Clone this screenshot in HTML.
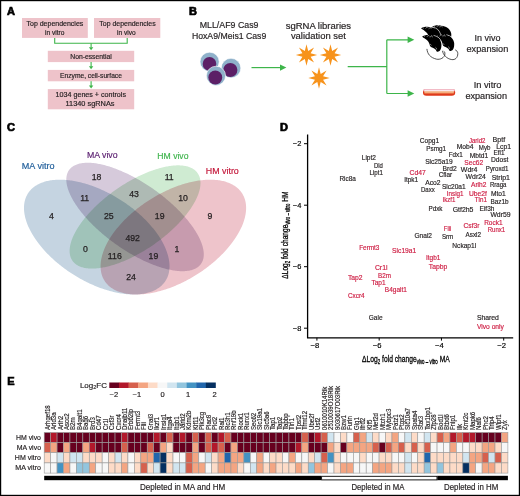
<!DOCTYPE html>
<html><head><meta charset="utf-8"><style>
html,body{margin:0;padding:0;background:#fff;}
body{width:520px;height:496px;overflow:hidden;}
svg{display:block;}
text{font-family:"Liberation Sans",sans-serif;}
</style></head><body>
<svg width="520" height="496" viewBox="0 0 520 496">
<rect x="0" y="0" width="520" height="496" fill="#fff"/>
<text x="7.10" y="14.55" font-size="11" text-anchor="start" fill="#000" font-weight="bold" stroke="#000" stroke-width="0.7">A</text>
<text x="189.00" y="14.55" font-size="11" text-anchor="start" fill="#000" font-weight="bold" stroke="#000" stroke-width="0.7">B</text>
<text x="6.90" y="131.10" font-size="11" text-anchor="start" fill="#000" font-weight="bold" stroke="#000" stroke-width="0.7">C</text>
<text x="279.90" y="131.05" font-size="11" text-anchor="start" fill="#000" font-weight="bold" stroke="#000" stroke-width="0.7">D</text>
<text x="7.30" y="384.85" font-size="11" text-anchor="start" fill="#000" font-weight="bold" stroke="#000" stroke-width="0.7">E</text>
<rect x="22" y="18" width="65.80" height="19.90" fill="#eec3ca"/>
<rect x="94" y="18" width="66.30" height="19.90" fill="#eec3ca"/>
<rect x="47.8" y="50.8" width="86.40" height="11.30" fill="#eec3ca"/>
<rect x="47.8" y="69.9" width="86.40" height="11.40" fill="#eec3ca"/>
<rect x="47.8" y="89.1" width="86.40" height="20.20" fill="#eec3ca"/>
<text x="54.90" y="26.00" font-size="7" text-anchor="middle" fill="#231f20" stroke="#231f20" stroke-width="0.18" textLength="56.80" lengthAdjust="spacingAndGlyphs" >Top dependencies</text>
<text x="54.70" y="34.50" font-size="7" text-anchor="middle" fill="#231f20" stroke="#231f20" stroke-width="0.18" textLength="19.50" lengthAdjust="spacingAndGlyphs" >in vitro</text>
<text x="127.50" y="26.00" font-size="7" text-anchor="middle" fill="#231f20" stroke="#231f20" stroke-width="0.18" textLength="56.30" lengthAdjust="spacingAndGlyphs" >Top dependencies</text>
<text x="126.40" y="34.50" font-size="7" text-anchor="middle" fill="#231f20" stroke="#231f20" stroke-width="0.18" textLength="18.70" lengthAdjust="spacingAndGlyphs" >in vivo</text>
<text x="91.00" y="58.60" font-size="7" text-anchor="middle" fill="#231f20" stroke="#231f20" stroke-width="0.18" textLength="41.50" lengthAdjust="spacingAndGlyphs" >Non-essential</text>
<text x="91.00" y="77.80" font-size="7" text-anchor="middle" fill="#231f20" stroke="#231f20" stroke-width="0.18" textLength="61.80" lengthAdjust="spacingAndGlyphs" >Enzyme, cell-surface</text>
<text x="90.80" y="97.00" font-size="7" text-anchor="middle" fill="#231f20" stroke="#231f20" stroke-width="0.18" textLength="70.40" lengthAdjust="spacingAndGlyphs" >1034 genes + controls</text>
<text x="90.00" y="105.60" font-size="7" text-anchor="middle" fill="#231f20" stroke="#231f20" stroke-width="0.18" textLength="49.00" lengthAdjust="spacingAndGlyphs" >11340 sgRNAs</text>
<path d="M54.7 37.9 V43.2 H127.2 V37.9" fill="none" stroke="#3db54a" stroke-width="1.1"/>
<line x1="91.1" y1="43.2" x2="91.1" y2="47.60" stroke="#3db54a" stroke-width="1.1"/>
<path d="M88.9 47.20 L93.3 47.20 L91.1 50.20 Z" fill="#3db54a"/>
<line x1="91.1" y1="62.1" x2="91.1" y2="66.70" stroke="#3db54a" stroke-width="1.1"/>
<path d="M88.9 66.30 L93.3 66.30 L91.1 69.30 Z" fill="#3db54a"/>
<line x1="91.1" y1="81.3" x2="91.1" y2="85.90" stroke="#3db54a" stroke-width="1.1"/>
<path d="M88.9 85.50 L93.3 85.50 L91.1 88.50 Z" fill="#3db54a"/>
<text x="229.10" y="28.00" font-size="8.8" text-anchor="middle" fill="#231f20" stroke="#231f20" stroke-width="0.18" textLength="58.80" lengthAdjust="spacingAndGlyphs" >MLL/AF9 Cas9</text>
<text x="229.10" y="38.70" font-size="8.8" text-anchor="middle" fill="#231f20" stroke="#231f20" stroke-width="0.18" textLength="74.40" lengthAdjust="spacingAndGlyphs" >HoxA9/Meis1 Cas9</text>
<text x="318.40" y="28.50" font-size="8.8" text-anchor="middle" fill="#231f20" stroke="#231f20" stroke-width="0.18" textLength="65.40" lengthAdjust="spacingAndGlyphs" >sgRNA libraries</text>
<text x="318.40" y="38.90" font-size="8.8" text-anchor="middle" fill="#231f20" stroke="#231f20" stroke-width="0.18" textLength="55.00" lengthAdjust="spacingAndGlyphs" >validation set</text>
<text x="487.60" y="40.80" font-size="8.8" text-anchor="middle" fill="#231f20" stroke="#231f20" stroke-width="0.18" textLength="26.00" lengthAdjust="spacingAndGlyphs" >In vivo</text>
<text x="487.40" y="52.00" font-size="8.8" text-anchor="middle" fill="#231f20" stroke="#231f20" stroke-width="0.18" textLength="41.80" lengthAdjust="spacingAndGlyphs" >expansion</text>
<text x="487.60" y="87.50" font-size="8.8" text-anchor="middle" fill="#231f20" stroke="#231f20" stroke-width="0.18" textLength="27.80" lengthAdjust="spacingAndGlyphs" >In vitro</text>
<text x="486.20" y="98.50" font-size="8.8" text-anchor="middle" fill="#231f20" stroke="#231f20" stroke-width="0.18" textLength="41.60" lengthAdjust="spacingAndGlyphs" >expansion</text>
<circle cx="209.6" cy="61.8" r="9.6" fill="#8fb1ca" stroke="#fff" stroke-width="0.6"/>
<circle cx="209.5" cy="63.9" r="6.8" fill="#5c1f66"/>
<circle cx="231" cy="68.1" r="9.8" fill="#8fb1ca" stroke="#fff" stroke-width="0.6"/>
<circle cx="230.3" cy="70" r="7.1" fill="#5c1f66"/>
<circle cx="216" cy="75.8" r="9.6" fill="#8fb1ca" stroke="#fff" stroke-width="0.6"/>
<circle cx="215.3" cy="77.5" r="6.9" fill="#5c1f66"/>
<line x1="251.5" y1="67.6" x2="281" y2="67.6" stroke="#3db54a" stroke-width="1.2"/>
<path d="M280 64.4 L286.4 67.6 L280 70.8 Z" fill="#3db54a"/>
<polygon points="306.50,44.30 308.18,50.93 314.07,47.43 310.57,53.32 317.20,55.00 310.57,56.68 314.07,62.57 308.18,59.07 306.50,65.70 304.82,59.07 298.93,62.57 302.43,56.68 295.80,55.00 302.43,53.32 298.93,47.43 304.82,50.93" fill="#f7931c"/>
<polygon points="330.50,44.30 332.18,50.93 338.07,47.43 334.57,53.32 341.20,55.00 334.57,56.68 338.07,62.57 332.18,59.07 330.50,65.70 328.82,59.07 322.93,62.57 326.43,56.68 319.80,55.00 326.43,53.32 322.93,47.43 328.82,50.93" fill="#f7931c"/>
<polygon points="319.00,67.30 320.68,73.93 326.57,70.43 323.07,76.32 329.70,78.00 323.07,79.68 326.57,85.57 320.68,82.07 319.00,88.70 317.32,82.07 311.43,85.57 314.93,79.68 308.30,78.00 314.93,76.32 311.43,70.43 317.32,73.93" fill="#f7931c"/>
<path d="M347.7 66.6 H386.8 M386.8 39.8 V93.5 M386.8 39.8 H409 M386.8 93.5 H409" fill="none" stroke="#3db54a" stroke-width="1.2"/>
<path d="M407.6 36.6 L414.3 39.8 L407.6 43 Z" fill="#3db54a"/>
<path d="M407.6 90.3 L414.3 93.5 L407.6 96.7 Z" fill="#3db54a"/>
<path d="M426.9 48.9 C427.5 54 430 57.5 436.6 59.2 C440 59.8 444.5 58 444.9 54.1 C445 52.5 444.5 51.6 443.8 51.2" fill="none" stroke="#2a2a2a" stroke-width="0.8"/>
<path d="M442.5 50.8 C443 54.5 446.5 58.8 451.8 59.6 C455 60 457.8 58 457.8 53.5 C457.8 51.5 456.5 50.4 455.2 49.9" fill="none" stroke="#2a2a2a" stroke-width="0.8"/>
<g transform="translate(432.1 26.8)"><path d="M11.45,-1.25 L14.45,-0.25 L16.75,1.15 L18.35,3.15 L19.45,5.75 L19.65,8.55 L19.05,11.75" stroke="#fff" stroke-width="0.7" fill="none" stroke-linejoin="round"/><path d="M0.00,0.00 C-0.05,-0.37 0.92,-0.67 1.50,-0.90 C2.08,-1.13 2.83,-1.28 3.50,-1.40 C4.17,-1.52 4.75,-1.62 5.50,-1.60 C6.25,-1.58 7.08,-1.43 8.00,-1.30 C8.92,-1.17 10.00,-1.05 11.00,-0.80 C12.00,-0.55 13.12,-0.20 14.00,0.20 C14.88,0.60 15.65,1.03 16.30,1.60 C16.95,2.17 17.45,2.83 17.90,3.60 C18.35,4.37 18.78,5.30 19.00,6.20 C19.22,7.10 19.27,8.00 19.20,9.00 C19.13,10.00 19.00,11.27 18.60,12.20 C18.20,13.13 17.47,14.18 16.80,14.60 C16.13,15.02 15.18,15.02 14.60,14.70 C14.02,14.38 13.98,13.32 13.30,12.70 C12.62,12.08 11.35,11.48 10.50,11.00 C9.65,10.52 8.73,10.37 8.20,9.80 C7.67,9.23 7.63,8.40 7.30,7.60 C6.97,6.80 6.75,5.78 6.20,5.00 C5.65,4.22 4.73,3.52 4.00,2.90 C3.27,2.28 2.47,1.78 1.80,1.30 C1.13,0.82 0.05,0.37 0.00,0.00 Z" fill="#000"/><path d="M4.6,0.3 L6.2,-1.6 L7.2,-0.2 M7.6,0.6 L9.6,-1.2 L10.2,0.6" stroke="#fff" stroke-width="0.45" fill="none" stroke-linejoin="round"/><circle cx="2.2" cy="-0.1" r="0.4" fill="#fff"/><path d="M7.6,7.4 q1.2,0.3 1.6,1.4 M13.2,10.6 q1.2,0.4 1.3,2.2" stroke="#fff" stroke-width="0.45" fill="none"/></g>
<g transform="translate(421 28.3)"><path d="M11.45,-1.25 L14.45,-0.25 L16.75,1.15 L18.35,3.15 L19.45,5.75 L19.65,8.55 L19.05,11.75" stroke="#fff" stroke-width="0.7" fill="none" stroke-linejoin="round"/><path d="M0.00,0.00 C-0.05,-0.37 0.92,-0.67 1.50,-0.90 C2.08,-1.13 2.83,-1.28 3.50,-1.40 C4.17,-1.52 4.75,-1.62 5.50,-1.60 C6.25,-1.58 7.08,-1.43 8.00,-1.30 C8.92,-1.17 10.00,-1.05 11.00,-0.80 C12.00,-0.55 13.12,-0.20 14.00,0.20 C14.88,0.60 15.65,1.03 16.30,1.60 C16.95,2.17 17.45,2.83 17.90,3.60 C18.35,4.37 18.78,5.30 19.00,6.20 C19.22,7.10 19.27,8.00 19.20,9.00 C19.13,10.00 19.00,11.27 18.60,12.20 C18.20,13.13 17.47,14.18 16.80,14.60 C16.13,15.02 15.18,15.02 14.60,14.70 C14.02,14.38 13.98,13.32 13.30,12.70 C12.62,12.08 11.35,11.48 10.50,11.00 C9.65,10.52 8.73,10.37 8.20,9.80 C7.67,9.23 7.63,8.40 7.30,7.60 C6.97,6.80 6.75,5.78 6.20,5.00 C5.65,4.22 4.73,3.52 4.00,2.90 C3.27,2.28 2.47,1.78 1.80,1.30 C1.13,0.82 0.05,0.37 0.00,0.00 Z" fill="#000"/><path d="M4.6,0.3 L6.2,-1.6 L7.2,-0.2 M7.6,0.6 L9.6,-1.2 L10.2,0.6" stroke="#fff" stroke-width="0.45" fill="none" stroke-linejoin="round"/><circle cx="2.2" cy="-0.1" r="0.4" fill="#fff"/><path d="M7.6,7.4 q1.2,0.3 1.6,1.4 M13.2,10.6 q1.2,0.4 1.3,2.2" stroke="#fff" stroke-width="0.45" fill="none"/></g>
<g transform="translate(435 36)"><path d="M11.45,-1.25 L14.45,-0.25 L16.75,1.15 L18.35,3.15 L19.45,5.75 L19.65,8.55 L19.05,11.75" stroke="#fff" stroke-width="0.7" fill="none" stroke-linejoin="round"/><path d="M0.00,0.00 C-0.05,-0.37 0.92,-0.67 1.50,-0.90 C2.08,-1.13 2.83,-1.28 3.50,-1.40 C4.17,-1.52 4.75,-1.62 5.50,-1.60 C6.25,-1.58 7.08,-1.43 8.00,-1.30 C8.92,-1.17 10.00,-1.05 11.00,-0.80 C12.00,-0.55 13.12,-0.20 14.00,0.20 C14.88,0.60 15.65,1.03 16.30,1.60 C16.95,2.17 17.45,2.83 17.90,3.60 C18.35,4.37 18.78,5.30 19.00,6.20 C19.22,7.10 19.27,8.00 19.20,9.00 C19.13,10.00 19.00,11.27 18.60,12.20 C18.20,13.13 17.47,14.18 16.80,14.60 C16.13,15.02 15.18,15.02 14.60,14.70 C14.02,14.38 13.98,13.32 13.30,12.70 C12.62,12.08 11.35,11.48 10.50,11.00 C9.65,10.52 8.73,10.37 8.20,9.80 C7.67,9.23 7.63,8.40 7.30,7.60 C6.97,6.80 6.75,5.78 6.20,5.00 C5.65,4.22 4.73,3.52 4.00,2.90 C3.27,2.28 2.47,1.78 1.80,1.30 C1.13,0.82 0.05,0.37 0.00,0.00 Z" fill="#000"/><path d="M4.6,0.3 L6.2,-1.6 L7.2,-0.2 M7.6,0.6 L9.6,-1.2 L10.2,0.6" stroke="#fff" stroke-width="0.45" fill="none" stroke-linejoin="round"/><circle cx="2.2" cy="-0.1" r="0.4" fill="#fff"/><path d="M7.6,7.4 q1.2,0.3 1.6,1.4 M13.2,10.6 q1.2,0.4 1.3,2.2" stroke="#fff" stroke-width="0.45" fill="none"/></g>
<g transform="translate(422.2 36.7)"><path d="M11.45,-1.25 L14.45,-0.25 L16.75,1.15 L18.35,3.15 L19.45,5.75 L19.65,8.55 L19.05,11.75" stroke="#fff" stroke-width="0.7" fill="none" stroke-linejoin="round"/><path d="M0.00,0.00 C-0.05,-0.37 0.92,-0.67 1.50,-0.90 C2.08,-1.13 2.83,-1.28 3.50,-1.40 C4.17,-1.52 4.75,-1.62 5.50,-1.60 C6.25,-1.58 7.08,-1.43 8.00,-1.30 C8.92,-1.17 10.00,-1.05 11.00,-0.80 C12.00,-0.55 13.12,-0.20 14.00,0.20 C14.88,0.60 15.65,1.03 16.30,1.60 C16.95,2.17 17.45,2.83 17.90,3.60 C18.35,4.37 18.78,5.30 19.00,6.20 C19.22,7.10 19.27,8.00 19.20,9.00 C19.13,10.00 19.00,11.27 18.60,12.20 C18.20,13.13 17.47,14.18 16.80,14.60 C16.13,15.02 15.18,15.02 14.60,14.70 C14.02,14.38 13.98,13.32 13.30,12.70 C12.62,12.08 11.35,11.48 10.50,11.00 C9.65,10.52 8.73,10.37 8.20,9.80 C7.67,9.23 7.63,8.40 7.30,7.60 C6.97,6.80 6.75,5.78 6.20,5.00 C5.65,4.22 4.73,3.52 4.00,2.90 C3.27,2.28 2.47,1.78 1.80,1.30 C1.13,0.82 0.05,0.37 0.00,0.00 Z" fill="#000"/><path d="M4.6,0.3 L6.2,-1.6 L7.2,-0.2 M7.6,0.6 L9.6,-1.2 L10.2,0.6" stroke="#fff" stroke-width="0.45" fill="none" stroke-linejoin="round"/><circle cx="2.2" cy="-0.1" r="0.4" fill="#fff"/><path d="M7.6,7.4 q1.2,0.3 1.6,1.4 M13.2,10.6 q1.2,0.4 1.3,2.2" stroke="#fff" stroke-width="0.45" fill="none"/></g>
<defs><linearGradient id="dg" x1="0" y1="0" x2="0" y2="1"><stop offset="0" stop-color="#f7c9a2"/><stop offset="1" stop-color="#f29a64"/></linearGradient></defs>
<rect x="423" y="88.9" width="32.2" height="6.9" rx="3.4" ry="3.3" fill="#df3a1b"/>
<rect x="423.3" y="88.9" width="31.6" height="2.8" rx="1.4" fill="#f0b0bc"/>
<rect x="424.4" y="89.8" width="29.4" height="1.3" fill="#fbe8ee"/>
<rect x="424.4" y="91.1" width="29.4" height="2.4" fill="url(#dg)"/>
<g style="isolation:isolate">
<polygon points="33.57,187.26 32.95,187.76 32.35,188.28 31.77,188.82 31.21,189.37 30.67,189.93 30.14,190.51 29.64,191.10 29.16,191.71 28.70,192.33 28.26,192.96 27.84,193.61 27.45,194.27 27.07,194.94 26.71,195.63 26.38,196.33 26.07,197.04 25.78,197.76 25.51,198.50 25.26,199.25 25.03,200.01 24.83,200.78 24.65,201.56 24.49,202.35 24.35,203.15 24.23,203.97 24.14,204.79 24.07,205.62 24.02,206.46 23.99,207.32 23.98,208.18 24.00,209.05 24.04,209.93 24.10,210.81 24.18,211.71 24.29,212.61 24.42,213.52 24.57,214.44 24.74,215.36 24.93,216.29 25.15,217.23 25.38,218.17 25.64,219.12 25.92,220.07 26.22,221.03 26.55,222.00 26.89,222.97 27.26,223.94 27.65,224.92 28.05,225.90 28.48,226.88 28.93,227.87 29.40,228.86 29.90,229.85 30.41,230.85 30.94,231.84 31.49,232.84 32.06,233.84 32.65,234.84 33.27,235.84 33.90,236.85 34.54,237.85 35.21,238.85 35.90,239.85 36.61,240.85 37.33,241.85 38.07,242.85 38.83,243.84 39.61,244.84 40.41,245.83 41.22,246.82 42.05,247.80 42.89,248.79 43.75,249.77 44.63,250.74 45.53,251.71 46.44,252.68 47.36,253.64 48.30,254.60 49.26,255.55 50.23,256.50 51.21,257.44 52.21,258.37 53.22,259.30 54.24,260.22 55.28,261.13 56.33,262.04 57.39,262.94 58.47,263.83 59.55,264.71 60.65,265.58 61.76,266.45 62.88,267.31 64.01,268.15 65.15,268.99 66.29,269.82 67.45,270.64 68.62,271.45 69.79,272.24 70.98,273.03 72.17,273.81 73.37,274.57 74.58,275.32 75.79,276.07 77.01,276.80 78.23,277.51 79.46,278.22 80.70,278.91 81.94,279.59 83.19,280.26 84.44,280.91 85.69,281.55 86.95,282.18 88.21,282.80 89.47,283.40 90.74,283.98 92.00,284.55 93.27,285.11 94.54,285.65 95.81,286.18 97.08,286.69 98.35,287.19 99.62,287.67 100.89,288.14 102.15,288.59 103.42,289.02 104.68,289.44 105.95,289.85 107.20,290.23 108.46,290.60 109.71,290.96 110.96,291.30 112.20,291.62 113.44,291.93 114.67,292.21 115.90,292.49 117.12,292.74 118.34,292.98 119.55,293.20 120.75,293.41 121.95,293.59 123.14,293.76 124.32,293.92 125.49,294.05 126.65,294.17 127.80,294.27 128.95,294.35 130.08,294.42 131.21,294.47 132.32,294.50 133.42,294.51 134.51,294.50 135.59,294.48 136.66,294.44 137.72,294.39 138.76,294.31 139.79,294.22 140.81,294.11 141.81,293.99 142.80,293.84 143.78,293.68 144.74,293.50 145.69,293.31 146.62,293.10 147.54,292.87 148.44,292.62 149.33,292.36 150.20,292.08 151.05,291.78 151.89,291.46 152.71,291.13 153.51,290.79 154.30,290.42 155.07,290.05 155.82,289.65 156.55,289.24 157.27,288.81 157.96,288.37 158.64,287.91 159.30,287.44 159.94,286.95 160.56,286.44 161.16,285.92 161.74,285.39 162.30,284.84 162.84,284.27 163.37,283.70 163.87,283.10 164.35,282.50 164.81,281.88 165.25,281.24 165.67,280.60 166.06,279.93 166.44,279.26 166.80,278.57 167.13,277.88 167.44,277.16 167.73,276.44 168.00,275.70 168.25,274.96 168.48,274.20 168.68,273.43 168.86,272.65 169.02,271.85 169.16,271.05 169.28,270.24 169.37,269.42 169.44,268.58 169.49,267.74 169.52,266.89 169.53,266.03 169.51,265.16 169.47,264.28 169.41,263.39 169.33,262.50 169.22,261.60 169.09,260.69 168.94,259.77 168.77,258.84 168.58,257.91 168.36,256.98 168.13,256.03 167.87,255.08 167.59,254.13 167.29,253.17 166.96,252.21 166.62,251.24 166.25,250.26 165.86,249.29 165.46,248.31 165.03,247.32 164.58,246.33 164.11,245.34 163.61,244.35 163.10,243.36 162.57,242.36 162.02,241.36 161.45,240.36 160.86,239.36 160.24,238.36 159.61,237.36 158.97,236.36 158.30,235.35 157.61,234.35 156.90,233.35 156.18,232.35 155.44,231.36 154.68,230.36 153.90,229.37 153.10,228.37 152.29,227.39 151.46,226.40 150.62,225.42 149.76,224.44 148.88,223.46 147.98,222.49 147.07,221.52 146.15,220.56 145.21,219.61 144.25,218.65 143.28,217.71 142.30,216.77 141.30,215.83 140.29,214.91 139.27,213.99 138.23,213.07 137.18,212.17 136.12,211.27 135.04,210.38 133.96,209.49 132.86,208.62 131.75,207.75 130.63,206.90 129.50,206.05 128.36,205.21 127.22,204.38 126.06,203.57 124.89,202.76 123.72,201.96 122.53,201.17 121.34,200.40 120.14,199.63 118.93,198.88 117.72,198.14 116.50,197.41 115.28,196.69 114.05,195.98 112.81,195.29 111.57,194.61 110.32,193.94 109.07,193.29 107.82,192.65 106.56,192.02 105.30,191.41 104.04,190.81 102.77,190.22 101.51,189.65 100.24,189.10 98.97,188.55 97.70,188.03 96.43,187.51 95.16,187.02 93.89,186.53 92.62,186.07 91.36,185.62 90.09,185.18 88.83,184.76 87.56,184.36 86.31,183.97 85.05,183.60 83.80,183.24 82.55,182.91 81.31,182.58 80.07,182.28 78.84,181.99 77.61,181.72 76.39,181.46 75.17,181.22 73.96,181.00 72.76,180.80 71.56,180.61 70.37,180.44 69.19,180.29 68.02,180.15 66.86,180.04 65.71,179.94 64.56,179.85 63.43,179.79 62.30,179.74 61.19,179.71 60.09,179.69 59.00,179.70 57.92,179.72 56.85,179.76 55.79,179.82 54.75,179.89 53.72,179.98 52.70,180.09 51.70,180.22 50.71,180.36 49.73,180.52 48.77,180.70 47.82,180.90 46.89,181.11 45.97,181.34 45.07,181.58 44.18,181.85 43.31,182.13 42.46,182.43 41.62,182.74 40.80,183.07 40.00,183.42 39.21,183.78 38.44,184.16 37.69,184.55 36.96,184.97 36.24,185.39 35.55,185.84 34.87,186.29 34.21,186.77" fill="#c5d4e1" style="mix-blend-mode:multiply"/>
<polygon points="71.87,167.12 71.40,167.50 70.96,167.89 70.54,168.30 70.13,168.73 69.75,169.17 69.38,169.62 69.04,170.09 68.71,170.58 68.41,171.07 68.12,171.58 67.86,172.11 67.62,172.65 67.39,173.20 67.19,173.77 67.01,174.35 66.85,174.94 66.71,175.54 66.59,176.16 66.49,176.79 66.42,177.43 66.36,178.08 66.32,178.75 66.31,179.43 66.32,180.12 66.34,180.82 66.39,181.53 66.46,182.25 66.55,182.98 66.66,183.72 66.79,184.48 66.94,185.24 67.12,186.01 67.31,186.79 67.53,187.58 67.76,188.38 68.02,189.19 68.29,190.01 68.59,190.84 68.91,191.67 69.24,192.51 69.60,193.36 69.98,194.21 70.37,195.08 70.79,195.95 71.23,196.82 71.68,197.70 72.15,198.59 72.65,199.48 73.16,200.38 73.69,201.29 74.24,202.20 74.81,203.11 75.40,204.03 76.00,204.95 76.63,205.87 77.27,206.80 77.93,207.73 78.60,208.66 79.30,209.60 80.01,210.54 80.73,211.48 81.48,212.42 82.24,213.37 83.01,214.31 83.81,215.26 84.61,216.20 85.44,217.15 86.27,218.10 87.13,219.04 87.99,219.99 88.88,220.93 89.77,221.88 90.68,222.82 91.60,223.76 92.54,224.70 93.49,225.63 94.45,226.56 95.43,227.49 96.41,228.42 97.41,229.34 98.42,230.26 99.44,231.18 100.47,232.09 101.52,233.00 102.57,233.90 103.63,234.79 104.70,235.69 105.78,236.57 106.87,237.45 107.97,238.32 109.08,239.19 110.19,240.05 111.32,240.90 112.44,241.75 113.58,242.59 114.72,243.42 115.87,244.24 117.03,245.05 118.19,245.86 119.35,246.65 120.52,247.44 121.70,248.22 122.88,248.99 124.06,249.75 125.25,250.50 126.44,251.24 127.63,251.96 128.82,252.68 130.02,253.39 131.21,254.08 132.41,254.77 133.61,255.44 134.81,256.10 136.01,256.75 137.21,257.39 138.41,258.01 139.61,258.62 140.80,259.22 142.00,259.81 143.19,260.38 144.38,260.94 145.57,261.49 146.75,262.02 147.93,262.54 149.11,263.05 150.28,263.54 151.45,264.02 152.61,264.48 153.77,264.93 154.92,265.37 156.07,265.78 157.20,266.19 158.34,266.58 159.46,266.95 160.58,267.31 161.69,267.66 162.79,267.98 163.89,268.30 164.97,268.59 166.05,268.88 167.11,269.14 168.17,269.39 169.21,269.62 170.25,269.84 171.28,270.04 172.29,270.23 173.29,270.40 174.28,270.55 175.26,270.69 176.23,270.81 177.18,270.91 178.13,271.00 179.05,271.07 179.97,271.13 180.87,271.16 181.76,271.19 182.63,271.19 183.49,271.18 184.33,271.15 185.16,271.11 185.98,271.05 186.77,270.97 187.56,270.87 188.32,270.76 189.07,270.64 189.81,270.49 190.52,270.33 191.22,270.16 191.91,269.97 192.57,269.76 193.22,269.53 193.85,269.29 194.46,269.04 195.06,268.77 195.63,268.48 196.19,268.17 196.73,267.86 197.25,267.52 197.75,267.17 198.23,266.81 198.70,266.43 199.14,266.03 199.56,265.62 199.97,265.19 200.35,264.75 200.72,264.30 201.06,263.83 201.39,263.35 201.69,262.85 201.98,262.34 202.24,261.81 202.48,261.28 202.71,260.72 202.91,260.16 203.09,259.58 203.25,258.99 203.39,258.38 203.51,257.77 203.61,257.14 203.68,256.49 203.74,255.84 203.78,255.17 203.79,254.50 203.78,253.81 203.76,253.11 203.71,252.40 203.64,251.68 203.55,250.94 203.44,250.20 203.31,249.45 203.16,248.68 202.98,247.91 202.79,247.13 202.57,246.34 202.34,245.54 202.08,244.73 201.81,243.91 201.51,243.09 201.19,242.25 200.86,241.41 200.50,240.57 200.12,239.71 199.73,238.85 199.31,237.98 198.88,237.10 198.42,236.22 197.95,235.33 197.45,234.44 196.94,233.54 196.41,232.64 195.86,231.73 195.29,230.82 194.70,229.90 194.10,228.98 193.47,228.05 192.83,227.12 192.17,226.19 191.50,225.26 190.80,224.32 190.09,223.38 189.37,222.44 188.62,221.50 187.86,220.56 187.09,219.61 186.29,218.67 185.49,217.72 184.66,216.77 183.83,215.83 182.97,214.88 182.11,213.94 181.22,212.99 180.33,212.05 179.42,211.11 178.50,210.17 177.56,209.23 176.61,208.29 175.65,207.36 174.67,206.43 173.69,205.50 172.69,204.58 171.68,203.66 170.66,202.75 169.63,201.83 168.58,200.93 167.53,200.03 166.47,199.13 165.40,198.24 164.32,197.35 163.23,196.47 162.13,195.60 161.02,194.73 159.91,193.87 158.78,193.02 157.66,192.18 156.52,191.34 155.38,190.51 154.23,189.69 153.07,188.87 151.91,188.07 150.75,187.27 149.58,186.48 148.40,185.70 147.22,184.94 146.04,184.18 144.85,183.43 143.66,182.69 142.47,181.96 141.28,181.24 140.08,180.54 138.89,179.84 137.69,179.16 136.49,178.48 135.29,177.82 134.09,177.17 132.89,176.54 131.69,175.91 130.49,175.30 129.30,174.70 128.10,174.11 126.91,173.54 125.72,172.98 124.53,172.43 123.35,171.90 122.17,171.38 120.99,170.87 119.82,170.38 118.65,169.90 117.49,169.44 116.33,168.99 115.18,168.56 114.03,168.14 112.90,167.74 111.76,167.35 110.64,166.97 109.52,166.61 108.41,166.27 107.31,165.94 106.21,165.63 105.13,165.33 104.05,165.05 102.99,164.78 101.93,164.53 100.89,164.30 99.85,164.08 98.82,163.88 97.81,163.69 96.81,163.52 95.82,163.37 94.84,163.24 93.87,163.12 92.92,163.01 91.97,162.92 91.05,162.85 90.13,162.80 89.23,162.76 88.34,162.74 87.47,162.73 86.61,162.75 85.77,162.77 84.94,162.82 84.12,162.88 83.33,162.96 82.54,163.05 81.78,163.16 81.03,163.29 80.29,163.43 79.58,163.59 78.88,163.77 78.19,163.96 77.53,164.17 76.88,164.39 76.25,164.63 75.64,164.89 75.04,165.16 74.47,165.45 73.91,165.75 73.37,166.07 72.85,166.40 72.35,166.75" fill="#d6cadb" style="mix-blend-mode:multiply"/>
<polygon points="194.62,169.97 194.14,169.60 193.64,169.25 193.12,168.91 192.59,168.59 192.04,168.28 191.47,167.99 190.88,167.71 190.27,167.45 189.65,167.20 189.02,166.97 188.36,166.75 187.69,166.55 187.00,166.37 186.30,166.19 185.58,166.04 184.85,165.90 184.10,165.77 183.34,165.67 182.56,165.57 181.77,165.49 180.96,165.43 180.14,165.39 179.31,165.36 178.46,165.34 177.60,165.34 176.72,165.36 175.84,165.39 174.94,165.44 174.03,165.50 173.10,165.58 172.17,165.68 171.22,165.79 170.26,165.91 169.30,166.06 168.32,166.21 167.33,166.39 166.33,166.57 165.32,166.78 164.31,167.00 163.28,167.23 162.25,167.48 161.20,167.74 160.15,168.02 159.09,168.32 158.03,168.63 156.95,168.95 155.87,169.29 154.79,169.64 153.70,170.01 152.60,170.39 151.50,170.79 150.39,171.20 149.28,171.62 148.16,172.06 147.04,172.51 145.91,172.97 144.79,173.45 143.65,173.94 142.52,174.45 141.39,174.96 140.25,175.49 139.11,176.04 137.97,176.59 136.83,177.16 135.69,177.74 134.54,178.33 133.40,178.94 132.26,179.55 131.12,180.18 129.98,180.82 128.84,181.46 127.71,182.12 126.57,182.79 125.44,183.47 124.31,184.16 123.19,184.87 122.07,185.58 120.95,186.30 119.84,187.03 118.73,187.76 117.62,188.51 116.53,189.27 115.43,190.03 114.35,190.80 113.27,191.59 112.19,192.37 111.13,193.17 110.07,193.97 109.02,194.78 107.97,195.60 106.94,196.42 105.91,197.25 104.89,198.09 103.88,198.93 102.88,199.78 101.89,200.63 100.91,201.49 99.94,202.35 98.99,203.22 98.04,204.09 97.10,204.96 96.18,205.84 95.26,206.72 94.36,207.60 93.48,208.49 92.60,209.38 91.74,210.27 90.89,211.17 90.05,212.06 89.23,212.96 88.42,213.86 87.63,214.76 86.85,215.66 86.08,216.56 85.33,217.46 84.60,218.36 83.88,219.26 83.17,220.16 82.48,221.06 81.81,221.96 81.16,222.86 80.52,223.75 79.89,224.64 79.29,225.53 78.70,226.42 78.13,227.30 77.57,228.18 77.03,229.06 76.52,229.94 76.01,230.81 75.53,231.67 75.06,232.53 74.62,233.39 74.19,234.24 73.78,235.09 73.39,235.93 73.01,236.76 72.66,237.59 72.32,238.42 72.01,239.23 71.71,240.04 71.43,240.84 71.18,241.64 70.94,242.43 70.72,243.21 70.52,243.98 70.34,244.74 70.18,245.50 70.04,246.24 69.92,246.98 69.82,247.71 69.74,248.43 69.68,249.14 69.64,249.84 69.61,250.53 69.61,251.21 69.63,251.88 69.67,252.53 69.73,253.18 69.81,253.82 69.91,254.44 70.02,255.06 70.16,255.66 70.32,256.25 70.50,256.83 70.70,257.39 70.91,257.95 71.15,258.49 71.40,259.02 71.68,259.53 71.97,260.04 72.29,260.53 72.62,261.00 72.97,261.47 73.34,261.92 73.73,262.35 74.14,262.78 74.57,263.18 75.01,263.58 75.48,263.96 75.96,264.32 76.46,264.67 76.98,265.01 77.51,265.33 78.06,265.64 78.63,265.93 79.22,266.21 79.83,266.47 80.45,266.72 81.08,266.95 81.74,267.17 82.41,267.37 83.10,267.56 83.80,267.73 84.52,267.89 85.25,268.03 86.00,268.15 86.76,268.26 87.54,268.35 88.33,268.43 89.14,268.49 89.96,268.54 90.79,268.57 91.64,268.58 92.50,268.58 93.38,268.57 94.26,268.53 95.16,268.49 96.07,268.42 97.00,268.34 97.93,268.25 98.88,268.14 99.84,268.01 100.80,267.87 101.78,267.71 102.77,267.54 103.77,267.35 104.78,267.15 105.79,266.93 106.82,266.69 107.85,266.44 108.90,266.18 109.95,265.90 111.01,265.61 112.07,265.30 113.15,264.97 114.23,264.64 115.31,264.28 116.40,263.92 117.50,263.53 118.60,263.14 119.71,262.73 120.82,262.30 121.94,261.87 123.06,261.42 124.19,260.95 125.31,260.47 126.45,259.98 127.58,259.48 128.71,258.96 129.85,258.43 130.99,257.89 132.13,257.33 133.27,256.76 134.41,256.18 135.56,255.59 136.70,254.99 137.84,254.37 138.98,253.75 140.12,253.11 141.26,252.46 142.39,251.80 143.53,251.13 144.66,250.45 145.79,249.76 146.91,249.06 148.03,248.35 149.15,247.63 150.26,246.90 151.37,246.16 152.48,245.41 153.57,244.66 154.67,243.89 155.75,243.12 156.83,242.34 157.91,241.55 158.97,240.75 160.03,239.95 161.08,239.14 162.13,238.32 163.16,237.50 164.19,236.67 165.21,235.83 166.22,234.99 167.22,234.15 168.21,233.29 169.19,232.44 170.16,231.58 171.11,230.71 172.06,229.84 173.00,228.96 173.92,228.09 174.84,227.20 175.74,226.32 176.62,225.43 177.50,224.54 178.36,223.65 179.21,222.76 180.05,221.86 180.87,220.96 181.68,220.06 182.47,219.16 183.25,218.26 184.02,217.36 184.77,216.46 185.50,215.56 186.22,214.66 186.93,213.76 187.62,212.86 188.29,211.96 188.94,211.07 189.58,210.17 190.21,209.28 190.81,208.39 191.40,207.50 191.97,206.62 192.53,205.74 193.07,204.86 193.58,203.99 194.09,203.12 194.57,202.25 195.04,201.39 195.48,200.53 195.91,199.68 196.32,198.84 196.71,198.00 197.09,197.16 197.44,196.33 197.78,195.51 198.09,194.69 198.39,193.88 198.67,193.08 198.92,192.29 199.16,191.50 199.38,190.72 199.58,189.95 199.76,189.18 199.92,188.43 200.06,187.68 200.18,186.94 200.28,186.21 200.36,185.50 200.42,184.79 200.46,184.09 200.49,183.40 200.49,182.72 200.47,182.05 200.43,181.39 200.37,180.74 200.29,180.11 200.19,179.48 200.08,178.87 199.94,178.27 199.78,177.67 199.60,177.10 199.40,176.53 199.19,175.98 198.95,175.43 198.70,174.91 198.42,174.39 198.13,173.89 197.81,173.40 197.48,172.92 197.13,172.46 196.76,172.01 196.37,171.57 195.96,171.15 195.53,170.74 195.09,170.35" fill="#cfebd2" style="mix-blend-mode:multiply"/>
<polygon points="236.53,187.26 235.89,186.77 235.23,186.29 234.55,185.84 233.86,185.39 233.14,184.97 232.41,184.55 231.66,184.16 230.89,183.78 230.10,183.42 229.30,183.07 228.48,182.74 227.64,182.43 226.79,182.13 225.92,181.85 225.03,181.58 224.13,181.34 223.21,181.11 222.28,180.90 221.33,180.70 220.37,180.52 219.39,180.36 218.40,180.22 217.40,180.09 216.38,179.98 215.35,179.89 214.31,179.82 213.25,179.76 212.18,179.72 211.10,179.70 210.01,179.69 208.91,179.71 207.80,179.74 206.67,179.79 205.54,179.85 204.39,179.94 203.24,180.04 202.08,180.15 200.91,180.29 199.73,180.44 198.54,180.61 197.34,180.80 196.14,181.00 194.93,181.22 193.71,181.46 192.49,181.72 191.26,181.99 190.03,182.28 188.79,182.58 187.55,182.91 186.30,183.24 185.05,183.60 183.79,183.97 182.54,184.36 181.27,184.76 180.01,185.18 178.74,185.62 177.48,186.07 176.21,186.53 174.94,187.02 173.67,187.51 172.40,188.03 171.13,188.55 169.86,189.10 168.59,189.65 167.33,190.22 166.06,190.81 164.80,191.41 163.54,192.02 162.28,192.65 161.03,193.29 159.78,193.94 158.53,194.61 157.29,195.29 156.05,195.98 154.82,196.69 153.60,197.41 152.38,198.14 151.17,198.88 149.96,199.63 148.76,200.40 147.57,201.17 146.38,201.96 145.21,202.76 144.04,203.57 142.88,204.38 141.74,205.21 140.60,206.05 139.47,206.90 138.35,207.75 137.24,208.62 136.14,209.49 135.06,210.38 133.98,211.27 132.92,212.17 131.87,213.07 130.83,213.99 129.81,214.91 128.80,215.83 127.80,216.77 126.82,217.71 125.85,218.65 124.89,219.61 123.95,220.56 123.03,221.52 122.12,222.49 121.22,223.46 120.34,224.44 119.48,225.42 118.64,226.40 117.81,227.39 117.00,228.37 116.20,229.37 115.42,230.36 114.66,231.36 113.92,232.35 113.20,233.35 112.49,234.35 111.80,235.35 111.13,236.36 110.49,237.36 109.86,238.36 109.24,239.36 108.65,240.36 108.08,241.36 107.53,242.36 107.00,243.36 106.49,244.35 105.99,245.34 105.52,246.33 105.07,247.32 104.64,248.31 104.24,249.29 103.85,250.26 103.48,251.24 103.14,252.21 102.81,253.17 102.51,254.13 102.23,255.08 101.97,256.03 101.74,256.98 101.52,257.91 101.33,258.84 101.16,259.77 101.01,260.69 100.88,261.60 100.77,262.50 100.69,263.39 100.63,264.28 100.59,265.16 100.57,266.03 100.58,266.89 100.61,267.74 100.66,268.58 100.73,269.42 100.82,270.24 100.94,271.05 101.08,271.85 101.24,272.65 101.42,273.43 101.62,274.20 101.85,274.96 102.10,275.70 102.37,276.44 102.66,277.16 102.97,277.88 103.30,278.57 103.66,279.26 104.04,279.93 104.43,280.60 104.85,281.24 105.29,281.88 105.75,282.50 106.23,283.10 106.73,283.70 107.26,284.27 107.80,284.84 108.36,285.39 108.94,285.92 109.54,286.44 110.16,286.95 110.80,287.44 111.46,287.91 112.14,288.37 112.83,288.81 113.55,289.24 114.28,289.65 115.03,290.05 115.80,290.42 116.59,290.79 117.39,291.13 118.21,291.46 119.05,291.78 119.90,292.08 120.77,292.36 121.66,292.62 122.56,292.87 123.48,293.10 124.41,293.31 125.36,293.50 126.32,293.68 127.30,293.84 128.29,293.99 129.29,294.11 130.31,294.22 131.34,294.31 132.38,294.39 133.44,294.44 134.51,294.48 135.59,294.50 136.68,294.51 137.78,294.50 138.89,294.47 140.02,294.42 141.15,294.35 142.30,294.27 143.45,294.17 144.61,294.05 145.78,293.92 146.96,293.76 148.15,293.59 149.35,293.41 150.55,293.20 151.76,292.98 152.98,292.74 154.20,292.49 155.43,292.21 156.66,291.93 157.90,291.62 159.14,291.30 160.39,290.96 161.64,290.60 162.90,290.23 164.15,289.85 165.42,289.44 166.68,289.02 167.95,288.59 169.21,288.14 170.48,287.67 171.75,287.19 173.02,286.69 174.29,286.18 175.56,285.65 176.83,285.11 178.10,284.55 179.36,283.98 180.63,283.40 181.89,282.80 183.15,282.18 184.41,281.55 185.66,280.91 186.91,280.26 188.16,279.59 189.40,278.91 190.64,278.22 191.87,277.51 193.09,276.80 194.31,276.07 195.52,275.32 196.73,274.57 197.93,273.81 199.12,273.03 200.31,272.24 201.48,271.45 202.65,270.64 203.81,269.82 204.95,268.99 206.09,268.15 207.22,267.31 208.34,266.45 209.45,265.58 210.55,264.71 211.63,263.83 212.71,262.94 213.77,262.04 214.82,261.13 215.86,260.22 216.88,259.30 217.89,258.37 218.89,257.44 219.87,256.50 220.84,255.55 221.80,254.60 222.74,253.64 223.66,252.68 224.57,251.71 225.47,250.74 226.35,249.77 227.21,248.79 228.05,247.80 228.88,246.82 229.69,245.83 230.49,244.84 231.27,243.84 232.03,242.85 232.77,241.85 233.49,240.85 234.20,239.85 234.89,238.85 235.56,237.85 236.20,236.85 236.83,235.84 237.45,234.84 238.04,233.84 238.61,232.84 239.16,231.84 239.69,230.85 240.20,229.85 240.70,228.86 241.17,227.87 241.62,226.88 242.05,225.90 242.45,224.92 242.84,223.94 243.21,222.97 243.55,222.00 243.88,221.03 244.18,220.07 244.46,219.12 244.72,218.17 244.95,217.23 245.17,216.29 245.36,215.36 245.53,214.44 245.68,213.52 245.81,212.61 245.92,211.71 246.00,210.81 246.06,209.93 246.10,209.05 246.12,208.18 246.11,207.32 246.08,206.46 246.03,205.62 245.96,204.79 245.87,203.97 245.75,203.15 245.61,202.35 245.45,201.56 245.27,200.78 245.07,200.01 244.84,199.25 244.59,198.50 244.32,197.76 244.03,197.04 243.72,196.33 243.39,195.63 243.03,194.94 242.65,194.27 242.26,193.61 241.84,192.96 241.40,192.33 240.94,191.71 240.46,191.10 239.96,190.51 239.43,189.93 238.89,189.37 238.33,188.82 237.75,188.28 237.15,187.76" fill="#eec4cb" style="mix-blend-mode:multiply"/>
</g>
<text x="38.15" y="169.40" font-size="9" text-anchor="middle" fill="#22609c" stroke="#22609c" stroke-width="0.18" textLength="32.70" lengthAdjust="spacingAndGlyphs" >MA vitro</text>
<text x="102.25" y="157.50" font-size="9" text-anchor="middle" fill="#5e2373" stroke="#5e2373" stroke-width="0.18" textLength="30.70" lengthAdjust="spacingAndGlyphs" >MA vivo</text>
<text x="172.90" y="158.80" font-size="9" text-anchor="middle" fill="#40b54e" stroke="#40b54e" stroke-width="0.18" textLength="31.20" lengthAdjust="spacingAndGlyphs" >HM vivo</text>
<text x="222.30" y="174.20" font-size="9" text-anchor="middle" fill="#c4173a" stroke="#c4173a" stroke-width="0.18" textLength="33.00" lengthAdjust="spacingAndGlyphs" >HM vitro</text>
<text x="51.50" y="218.95" font-size="8.7" text-anchor="middle" fill="#231f20" stroke="#231f20" stroke-width="0.25">4</text>
<text x="96.50" y="180.45" font-size="8.7" text-anchor="middle" fill="#231f20" stroke="#231f20" stroke-width="0.25">18</text>
<text x="169.20" y="180.45" font-size="8.7" text-anchor="middle" fill="#231f20" stroke="#231f20" stroke-width="0.25">11</text>
<text x="209.80" y="218.95" font-size="8.7" text-anchor="middle" fill="#231f20" stroke="#231f20" stroke-width="0.25">9</text>
<text x="84.70" y="200.55" font-size="8.7" text-anchor="middle" fill="#231f20" stroke="#231f20" stroke-width="0.25">11</text>
<text x="134.00" y="196.75" font-size="8.7" text-anchor="middle" fill="#231f20" stroke="#231f20" stroke-width="0.25">43</text>
<text x="183.00" y="200.75" font-size="8.7" text-anchor="middle" fill="#231f20" stroke="#231f20" stroke-width="0.25">10</text>
<text x="108.80" y="218.95" font-size="8.7" text-anchor="middle" fill="#231f20" stroke="#231f20" stroke-width="0.25">25</text>
<text x="159.70" y="218.95" font-size="8.7" text-anchor="middle" fill="#231f20" stroke="#231f20" stroke-width="0.25">19</text>
<text x="132.70" y="241.15" font-size="8.7" text-anchor="middle" fill="#231f20" stroke="#231f20" stroke-width="0.25">492</text>
<text x="85.30" y="251.55" font-size="8.7" text-anchor="middle" fill="#231f20" stroke="#231f20" stroke-width="0.25">0</text>
<text x="177.00" y="251.55" font-size="8.7" text-anchor="middle" fill="#231f20" stroke="#231f20" stroke-width="0.25">1</text>
<text x="114.80" y="259.35" font-size="8.7" text-anchor="middle" fill="#231f20" stroke="#231f20" stroke-width="0.25">116</text>
<text x="153.40" y="259.35" font-size="8.7" text-anchor="middle" fill="#231f20" stroke="#231f20" stroke-width="0.25">19</text>
<text x="131.00" y="279.55" font-size="8.7" text-anchor="middle" fill="#231f20" stroke="#231f20" stroke-width="0.25">24</text>
<path d="M307.6 134.6 V337.8 H513.2" fill="none" stroke="#000" stroke-width="1.3"/>
<line x1="304" y1="143.70" x2="307.6" y2="143.70" stroke="#000" stroke-width="1"/>
<text x="301.30" y="146.40" font-size="7.7" text-anchor="end" fill="#000" stroke="#000" stroke-width="0.18" textLength="8.50" lengthAdjust="spacingAndGlyphs" >−2</text>
<line x1="503.70" y1="337.8" x2="503.70" y2="340.6" stroke="#000" stroke-width="1"/>
<text x="501.70" y="347.90" font-size="7.7" text-anchor="middle" fill="#000" stroke="#000" stroke-width="0.18" textLength="8.70" lengthAdjust="spacingAndGlyphs" >−2</text>
<line x1="304" y1="205.20" x2="307.6" y2="205.20" stroke="#000" stroke-width="1"/>
<text x="301.30" y="207.90" font-size="7.7" text-anchor="end" fill="#000" stroke="#000" stroke-width="0.18" textLength="8.50" lengthAdjust="spacingAndGlyphs" >−4</text>
<line x1="441.44" y1="337.8" x2="441.44" y2="340.6" stroke="#000" stroke-width="1"/>
<text x="439.44" y="347.90" font-size="7.7" text-anchor="middle" fill="#000" stroke="#000" stroke-width="0.18" textLength="8.70" lengthAdjust="spacingAndGlyphs" >−4</text>
<line x1="304" y1="266.70" x2="307.6" y2="266.70" stroke="#000" stroke-width="1"/>
<text x="301.30" y="269.40" font-size="7.7" text-anchor="end" fill="#000" stroke="#000" stroke-width="0.18" textLength="8.50" lengthAdjust="spacingAndGlyphs" >−6</text>
<line x1="379.18" y1="337.8" x2="379.18" y2="340.6" stroke="#000" stroke-width="1"/>
<text x="377.18" y="347.90" font-size="7.7" text-anchor="middle" fill="#000" stroke="#000" stroke-width="0.18" textLength="8.70" lengthAdjust="spacingAndGlyphs" >−6</text>
<line x1="304" y1="328.20" x2="307.6" y2="328.20" stroke="#000" stroke-width="1"/>
<text x="301.30" y="330.90" font-size="7.7" text-anchor="end" fill="#000" stroke="#000" stroke-width="0.18" textLength="8.50" lengthAdjust="spacingAndGlyphs" >−8</text>
<line x1="316.92" y1="337.8" x2="316.92" y2="340.6" stroke="#000" stroke-width="1"/>
<text x="314.92" y="347.90" font-size="7.7" text-anchor="middle" fill="#000" stroke="#000" stroke-width="0.18" textLength="8.70" lengthAdjust="spacingAndGlyphs" >−8</text>
<text x="362.1" y="362.4" font-size="9.9" fill="#000" stroke="#000" stroke-width="0.3" textLength="87.6" lengthAdjust="spacingAndGlyphs">ΔLog<tspan font-size="6.5" dy="1.8">2</tspan><tspan dy="-1.8"> fold change</tspan><tspan font-size="6.5" dy="1.8">vivo – vitro</tspan><tspan dy="-1.8"> MA</tspan></text>
<text transform="translate(287.7 278.7) rotate(-90)" x="0" y="0" font-size="9.9" fill="#000" stroke="#000" stroke-width="0.3" textLength="87.2" lengthAdjust="spacingAndGlyphs">ΔLog<tspan font-size="6.5" dy="1.8">2</tspan><tspan dy="-1.8"> fold change</tspan><tspan font-size="6.5" dy="1.8">vivo – vitro</tspan><tspan dy="-1.8"> HM</tspan></text>
<text x="419.80" y="142.80" font-size="7.2" text-anchor="start" fill="#231f20" stroke="#231f20" stroke-width="0.18" textLength="19.40" lengthAdjust="spacingAndGlyphs" >Copg1</text>
<text x="468.90" y="142.80" font-size="7.2" text-anchor="start" fill="#cf2146" stroke="#cf2146" stroke-width="0.18" textLength="16.60" lengthAdjust="spacingAndGlyphs" >Jarid2</text>
<text x="492.50" y="142.00" font-size="7.2" text-anchor="start" fill="#231f20" stroke="#231f20" stroke-width="0.18" textLength="12.70" lengthAdjust="spacingAndGlyphs" >Bptf</text>
<text x="426.30" y="151.40" font-size="7.2" text-anchor="start" fill="#231f20" stroke="#231f20" stroke-width="0.18" textLength="19.70" lengthAdjust="spacingAndGlyphs" >Psmg1</text>
<text x="456.70" y="148.70" font-size="7.2" text-anchor="start" fill="#231f20" stroke="#231f20" stroke-width="0.18" textLength="16.70" lengthAdjust="spacingAndGlyphs" >Mob4</text>
<text x="478.80" y="150.00" font-size="7.2" text-anchor="start" fill="#231f20" stroke="#231f20" stroke-width="0.18" textLength="11.60" lengthAdjust="spacingAndGlyphs" >Myb</text>
<text x="496.30" y="149.20" font-size="7.2" text-anchor="start" fill="#231f20" stroke="#231f20" stroke-width="0.18" textLength="14.80" lengthAdjust="spacingAndGlyphs" >Lcp1</text>
<text x="448.70" y="156.80" font-size="7.2" text-anchor="start" fill="#231f20" stroke="#231f20" stroke-width="0.18" textLength="14.00" lengthAdjust="spacingAndGlyphs" >Fdx1</text>
<text x="469.70" y="158.40" font-size="7.2" text-anchor="start" fill="#231f20" stroke="#231f20" stroke-width="0.18" textLength="18.50" lengthAdjust="spacingAndGlyphs" >Mbtd1</text>
<text x="493.60" y="155.40" font-size="7.2" text-anchor="start" fill="#231f20" stroke="#231f20" stroke-width="0.18" textLength="10.80" lengthAdjust="spacingAndGlyphs" >Efl1</text>
<text x="490.90" y="162.20" font-size="7.2" text-anchor="start" fill="#231f20" stroke="#231f20" stroke-width="0.18" textLength="17.50" lengthAdjust="spacingAndGlyphs" >Ddost</text>
<text x="425.20" y="163.80" font-size="7.2" text-anchor="start" fill="#231f20" stroke="#231f20" stroke-width="0.18" textLength="27.50" lengthAdjust="spacingAndGlyphs" >Slc25a19</text>
<text x="464.30" y="164.80" font-size="7.2" text-anchor="start" fill="#cf2146" stroke="#cf2146" stroke-width="0.18" textLength="18.80" lengthAdjust="spacingAndGlyphs" >Sec62</text>
<text x="442.50" y="170.50" font-size="7.2" text-anchor="start" fill="#231f20" stroke="#231f20" stroke-width="0.18" textLength="14.20" lengthAdjust="spacingAndGlyphs" >Brd2</text>
<text x="409.60" y="174.50" font-size="7.2" text-anchor="start" fill="#cf2146" stroke="#cf2146" stroke-width="0.18" textLength="16.20" lengthAdjust="spacingAndGlyphs" >Cd47</text>
<text x="460.80" y="172.40" font-size="7.2" text-anchor="start" fill="#231f20" stroke="#231f20" stroke-width="0.18" textLength="16.70" lengthAdjust="spacingAndGlyphs" >Wdr4</text>
<text x="485.80" y="171.30" font-size="7.2" text-anchor="start" fill="#231f20" stroke="#231f20" stroke-width="0.18" textLength="22.60" lengthAdjust="spacingAndGlyphs" >Pyroxd1</text>
<text x="438.70" y="177.00" font-size="7.2" text-anchor="start" fill="#231f20" stroke="#231f20" stroke-width="0.18" textLength="13.50" lengthAdjust="spacingAndGlyphs" >Cflar</text>
<text x="465.60" y="178.60" font-size="7.2" text-anchor="start" fill="#231f20" stroke="#231f20" stroke-width="0.18" textLength="20.20" lengthAdjust="spacingAndGlyphs" >Wdr24</text>
<text x="491.70" y="179.90" font-size="7.2" text-anchor="start" fill="#231f20" stroke="#231f20" stroke-width="0.18" textLength="18.30" lengthAdjust="spacingAndGlyphs" >Strip1</text>
<text x="404.20" y="182.00" font-size="7.2" text-anchor="start" fill="#231f20" stroke="#231f20" stroke-width="0.18" textLength="14.00" lengthAdjust="spacingAndGlyphs" >Itpk1</text>
<text x="425.20" y="184.50" font-size="7.2" text-anchor="start" fill="#231f20" stroke="#231f20" stroke-width="0.18" textLength="15.40" lengthAdjust="spacingAndGlyphs" >Aco2</text>
<text x="471.00" y="186.70" font-size="7.2" text-anchor="start" fill="#cf2146" stroke="#cf2146" stroke-width="0.18" textLength="15.40" lengthAdjust="spacingAndGlyphs" >Arih2</text>
<text x="489.90" y="186.70" font-size="7.2" text-anchor="start" fill="#231f20" stroke="#231f20" stroke-width="0.18" textLength="16.60" lengthAdjust="spacingAndGlyphs" >Rraga</text>
<text x="420.90" y="191.80" font-size="7.2" text-anchor="start" fill="#231f20" stroke="#231f20" stroke-width="0.18" textLength="13.80" lengthAdjust="spacingAndGlyphs" >Daxx</text>
<text x="441.90" y="189.40" font-size="7.2" text-anchor="start" fill="#231f20" stroke="#231f20" stroke-width="0.18" textLength="23.70" lengthAdjust="spacingAndGlyphs" >Slc20a1</text>
<text x="446.80" y="196.00" font-size="7.2" text-anchor="start" fill="#cf2146" stroke="#cf2146" stroke-width="0.18" textLength="16.70" lengthAdjust="spacingAndGlyphs" >Insig1</text>
<text x="468.90" y="196.00" font-size="7.2" text-anchor="start" fill="#cf2146" stroke="#cf2146" stroke-width="0.18" textLength="18.00" lengthAdjust="spacingAndGlyphs" >Ube2f</text>
<text x="490.90" y="196.00" font-size="7.2" text-anchor="start" fill="#231f20" stroke="#231f20" stroke-width="0.18" textLength="14.80" lengthAdjust="spacingAndGlyphs" >Mto1</text>
<text x="442.50" y="202.30" font-size="7.2" text-anchor="start" fill="#cf2146" stroke="#cf2146" stroke-width="0.18" textLength="12.90" lengthAdjust="spacingAndGlyphs" >Ikzf1</text>
<text x="474.80" y="201.80" font-size="7.2" text-anchor="start" fill="#cf2146" stroke="#cf2146" stroke-width="0.18" textLength="12.10" lengthAdjust="spacingAndGlyphs" >Tln1</text>
<text x="490.40" y="203.70" font-size="7.2" text-anchor="start" fill="#231f20" stroke="#231f20" stroke-width="0.18" textLength="18.30" lengthAdjust="spacingAndGlyphs" >Baz1b</text>
<text x="428.50" y="210.70" font-size="7.2" text-anchor="start" fill="#231f20" stroke="#231f20" stroke-width="0.18" textLength="14.00" lengthAdjust="spacingAndGlyphs" >Pdxk</text>
<text x="452.70" y="212.00" font-size="7.2" text-anchor="start" fill="#231f20" stroke="#231f20" stroke-width="0.18" textLength="20.70" lengthAdjust="spacingAndGlyphs" >Gtf2h5</text>
<text x="479.60" y="210.70" font-size="7.2" text-anchor="start" fill="#231f20" stroke="#231f20" stroke-width="0.18" textLength="14.80" lengthAdjust="spacingAndGlyphs" >Eif3h</text>
<text x="490.40" y="217.40" font-size="7.2" text-anchor="start" fill="#231f20" stroke="#231f20" stroke-width="0.18" textLength="20.20" lengthAdjust="spacingAndGlyphs" >Wdr59</text>
<text x="443.80" y="230.60" font-size="7.2" text-anchor="start" fill="#cf2146" stroke="#cf2146" stroke-width="0.18" textLength="7.60" lengthAdjust="spacingAndGlyphs" >Flii</text>
<text x="463.50" y="227.90" font-size="7.2" text-anchor="start" fill="#cf2146" stroke="#cf2146" stroke-width="0.18" textLength="16.10" lengthAdjust="spacingAndGlyphs" >Csf3r</text>
<text x="484.20" y="224.70" font-size="7.2" text-anchor="start" fill="#cf2146" stroke="#cf2146" stroke-width="0.18" textLength="18.30" lengthAdjust="spacingAndGlyphs" >Rock1</text>
<text x="487.70" y="232.00" font-size="7.2" text-anchor="start" fill="#cf2146" stroke="#cf2146" stroke-width="0.18" textLength="17.50" lengthAdjust="spacingAndGlyphs" >Runx1</text>
<text x="414.50" y="237.60" font-size="7.2" text-anchor="start" fill="#231f20" stroke="#231f20" stroke-width="0.18" textLength="17.50" lengthAdjust="spacingAndGlyphs" >Gnai2</text>
<text x="441.90" y="239.00" font-size="7.2" text-anchor="start" fill="#231f20" stroke="#231f20" stroke-width="0.18" textLength="11.30" lengthAdjust="spacingAndGlyphs" >Srm</text>
<text x="465.60" y="237.30" font-size="7.2" text-anchor="start" fill="#231f20" stroke="#231f20" stroke-width="0.18" textLength="15.40" lengthAdjust="spacingAndGlyphs" >Asxl2</text>
<text x="452.30" y="247.80" font-size="7.2" text-anchor="start" fill="#231f20" stroke="#231f20" stroke-width="0.18" textLength="23.90" lengthAdjust="spacingAndGlyphs" >Nckap1l</text>
<text x="392.10" y="253.30" font-size="7.2" text-anchor="start" fill="#cf2146" stroke="#cf2146" stroke-width="0.18" textLength="24.20" lengthAdjust="spacingAndGlyphs" >Slc19a1</text>
<text x="359.20" y="250.00" font-size="7.2" text-anchor="start" fill="#cf2146" stroke="#cf2146" stroke-width="0.18" textLength="20.20" lengthAdjust="spacingAndGlyphs" >Fermt3</text>
<text x="425.90" y="260.10" font-size="7.2" text-anchor="start" fill="#cf2146" stroke="#cf2146" stroke-width="0.18" textLength="14.50" lengthAdjust="spacingAndGlyphs" >Itgb1</text>
<text x="428.80" y="268.80" font-size="7.2" text-anchor="start" fill="#cf2146" stroke="#cf2146" stroke-width="0.18" textLength="18.50" lengthAdjust="spacingAndGlyphs" >Tapbp</text>
<text x="374.90" y="269.60" font-size="7.2" text-anchor="start" fill="#cf2146" stroke="#cf2146" stroke-width="0.18" textLength="12.60" lengthAdjust="spacingAndGlyphs" >Cr1l</text>
<text x="347.90" y="279.90" font-size="7.2" text-anchor="start" fill="#cf2146" stroke="#cf2146" stroke-width="0.18" textLength="14.60" lengthAdjust="spacingAndGlyphs" >Tap2</text>
<text x="378.10" y="277.70" font-size="7.2" text-anchor="start" fill="#cf2146" stroke="#cf2146" stroke-width="0.18" textLength="12.90" lengthAdjust="spacingAndGlyphs" >B2m</text>
<text x="371.40" y="285.20" font-size="7.2" text-anchor="start" fill="#cf2146" stroke="#cf2146" stroke-width="0.18" textLength="14.20" lengthAdjust="spacingAndGlyphs" >Tap1</text>
<text x="384.80" y="292.00" font-size="7.2" text-anchor="start" fill="#cf2146" stroke="#cf2146" stroke-width="0.18" textLength="22.10" lengthAdjust="spacingAndGlyphs" >B4galt1</text>
<text x="347.90" y="297.60" font-size="7.2" text-anchor="start" fill="#cf2146" stroke="#cf2146" stroke-width="0.18" textLength="16.70" lengthAdjust="spacingAndGlyphs" >Cxcr4</text>
<text x="361.80" y="159.50" font-size="7.2" text-anchor="start" fill="#231f20" stroke="#231f20" stroke-width="0.18" textLength="14.10" lengthAdjust="spacingAndGlyphs" >Lipt2</text>
<text x="374.00" y="168.10" font-size="7.2" text-anchor="start" fill="#231f20" stroke="#231f20" stroke-width="0.18" textLength="8.90" lengthAdjust="spacingAndGlyphs" >Dld</text>
<text x="369.60" y="174.50" font-size="7.2" text-anchor="start" fill="#231f20" stroke="#231f20" stroke-width="0.18" textLength="13.30" lengthAdjust="spacingAndGlyphs" >Lipt1</text>
<text x="339.40" y="180.60" font-size="7.2" text-anchor="start" fill="#231f20" stroke="#231f20" stroke-width="0.18" textLength="16.40" lengthAdjust="spacingAndGlyphs" >Ric8a</text>
<text x="368.80" y="320.10" font-size="7.2" text-anchor="start" fill="#231f20" stroke="#231f20" stroke-width="0.18" textLength="13.70" lengthAdjust="spacingAndGlyphs" >Gale</text>
<text x="476.90" y="319.60" font-size="7.5" text-anchor="start" fill="#231f20" stroke="#231f20" stroke-width="0.18" textLength="22.00" lengthAdjust="spacingAndGlyphs" >Shared</text>
<text x="476.90" y="328.50" font-size="7.5" text-anchor="start" fill="#cf2146" stroke="#cf2146" stroke-width="0.18" textLength="27.00" lengthAdjust="spacingAndGlyphs" >Vivo only</text>
<text x="107.00" y="387.50" font-size="8" text-anchor="end" fill="#231f20" stroke="#231f20" stroke-width="0.18" >Log<tspan font-size="5.5" dy="1.5">2</tspan><tspan dy="-1.5">FC</tspan></text>
<rect x="109.30" y="382.5" width="9.95" height="5.5" fill="#67001f"/>
<rect x="118.95" y="382.5" width="9.95" height="5.5" fill="#b2182b"/>
<rect x="128.61" y="382.5" width="9.95" height="5.5" fill="#d6604d"/>
<rect x="138.26" y="382.5" width="9.95" height="5.5" fill="#f4a582"/>
<rect x="147.92" y="382.5" width="9.95" height="5.5" fill="#fddbc7"/>
<rect x="157.57" y="382.5" width="9.95" height="5.5" fill="#f7f7f7"/>
<rect x="167.23" y="382.5" width="9.95" height="5.5" fill="#d1e5f0"/>
<rect x="176.88" y="382.5" width="9.95" height="5.5" fill="#92c5de"/>
<rect x="186.54" y="382.5" width="9.95" height="5.5" fill="#4393c3"/>
<rect x="196.19" y="382.5" width="9.95" height="5.5" fill="#2166ac"/>
<rect x="205.85" y="382.5" width="9.95" height="5.5" fill="#053061"/>
<text x="113.80" y="396.50" font-size="7.5" text-anchor="middle" fill="#231f20" stroke="#231f20" stroke-width="0.18" >−2</text>
<text x="136.80" y="396.50" font-size="7.5" text-anchor="middle" fill="#231f20" stroke="#231f20" stroke-width="0.18" >−1</text>
<text x="162.50" y="396.50" font-size="7.5" text-anchor="middle" fill="#231f20" stroke="#231f20" stroke-width="0.18" >0</text>
<text x="188.00" y="396.50" font-size="7.5" text-anchor="middle" fill="#231f20" stroke="#231f20" stroke-width="0.18" >1</text>
<text x="214.50" y="396.50" font-size="7.5" text-anchor="middle" fill="#231f20" stroke="#231f20" stroke-width="0.18" >2</text>
<rect x="44.20" y="432.50" width="6.44" height="10.10" fill="#67001f" stroke="#9a9a9a" stroke-width="0.6"/>
<rect x="44.20" y="442.60" width="6.44" height="10.10" fill="#d6604d" stroke="#9a9a9a" stroke-width="0.6"/>
<rect x="44.20" y="452.70" width="6.44" height="10.20" fill="#fddbc7" stroke="#9a9a9a" stroke-width="0.6"/>
<rect x="44.20" y="462.90" width="6.44" height="10.20" fill="#f7f7f7" stroke="#9a9a9a" stroke-width="0.6"/>
<rect x="50.64" y="432.50" width="6.44" height="10.10" fill="#b2182b" stroke="#9a9a9a" stroke-width="0.6"/>
<rect x="50.64" y="442.60" width="6.44" height="10.10" fill="#f4a582" stroke="#9a9a9a" stroke-width="0.6"/>
<rect x="50.64" y="452.70" width="6.44" height="10.20" fill="#f7f7f7" stroke="#9a9a9a" stroke-width="0.6"/>
<rect x="50.64" y="462.90" width="6.44" height="10.20" fill="#f7f7f7" stroke="#9a9a9a" stroke-width="0.6"/>
<rect x="57.08" y="432.50" width="6.44" height="10.10" fill="#67001f" stroke="#9a9a9a" stroke-width="0.6"/>
<rect x="57.08" y="442.60" width="6.44" height="10.10" fill="#67001f" stroke="#9a9a9a" stroke-width="0.6"/>
<rect x="57.08" y="452.70" width="6.44" height="10.20" fill="#d1e5f0" stroke="#9a9a9a" stroke-width="0.6"/>
<rect x="57.08" y="462.90" width="6.44" height="10.20" fill="#4393c3" stroke="#9a9a9a" stroke-width="0.6"/>
<rect x="63.52" y="432.50" width="6.44" height="10.10" fill="#67001f" stroke="#9a9a9a" stroke-width="0.6"/>
<rect x="63.52" y="442.60" width="6.44" height="10.10" fill="#f4a582" stroke="#9a9a9a" stroke-width="0.6"/>
<rect x="63.52" y="452.70" width="6.44" height="10.20" fill="#fddbc7" stroke="#9a9a9a" stroke-width="0.6"/>
<rect x="63.52" y="462.90" width="6.44" height="10.20" fill="#f4a582" stroke="#9a9a9a" stroke-width="0.6"/>
<rect x="69.96" y="432.50" width="6.44" height="10.10" fill="#67001f" stroke="#9a9a9a" stroke-width="0.6"/>
<rect x="69.96" y="442.60" width="6.44" height="10.10" fill="#67001f" stroke="#9a9a9a" stroke-width="0.6"/>
<rect x="69.96" y="452.70" width="6.44" height="10.20" fill="#d1e5f0" stroke="#9a9a9a" stroke-width="0.6"/>
<rect x="69.96" y="462.90" width="6.44" height="10.20" fill="#f7f7f7" stroke="#9a9a9a" stroke-width="0.6"/>
<rect x="76.40" y="432.50" width="6.44" height="10.10" fill="#67001f" stroke="#9a9a9a" stroke-width="0.6"/>
<rect x="76.40" y="442.60" width="6.44" height="10.10" fill="#67001f" stroke="#9a9a9a" stroke-width="0.6"/>
<rect x="76.40" y="452.70" width="6.44" height="10.20" fill="#d1e5f0" stroke="#9a9a9a" stroke-width="0.6"/>
<rect x="76.40" y="462.90" width="6.44" height="10.20" fill="#92c5de" stroke="#9a9a9a" stroke-width="0.6"/>
<rect x="82.84" y="432.50" width="6.44" height="10.10" fill="#67001f" stroke="#9a9a9a" stroke-width="0.6"/>
<rect x="82.84" y="442.60" width="6.44" height="10.10" fill="#f4a582" stroke="#9a9a9a" stroke-width="0.6"/>
<rect x="82.84" y="452.70" width="6.44" height="10.20" fill="#fddbc7" stroke="#9a9a9a" stroke-width="0.6"/>
<rect x="82.84" y="462.90" width="6.44" height="10.20" fill="#92c5de" stroke="#9a9a9a" stroke-width="0.6"/>
<rect x="89.28" y="432.50" width="6.44" height="10.10" fill="#67001f" stroke="#9a9a9a" stroke-width="0.6"/>
<rect x="89.28" y="442.60" width="6.44" height="10.10" fill="#b2182b" stroke="#9a9a9a" stroke-width="0.6"/>
<rect x="89.28" y="452.70" width="6.44" height="10.20" fill="#fddbc7" stroke="#9a9a9a" stroke-width="0.6"/>
<rect x="89.28" y="462.90" width="6.44" height="10.20" fill="#f4a582" stroke="#9a9a9a" stroke-width="0.6"/>
<rect x="95.72" y="432.50" width="6.44" height="10.10" fill="#67001f" stroke="#9a9a9a" stroke-width="0.6"/>
<rect x="95.72" y="442.60" width="6.44" height="10.10" fill="#67001f" stroke="#9a9a9a" stroke-width="0.6"/>
<rect x="95.72" y="452.70" width="6.44" height="10.20" fill="#fddbc7" stroke="#9a9a9a" stroke-width="0.6"/>
<rect x="95.72" y="462.90" width="6.44" height="10.20" fill="#f7f7f7" stroke="#9a9a9a" stroke-width="0.6"/>
<rect x="102.16" y="432.50" width="6.44" height="10.10" fill="#67001f" stroke="#9a9a9a" stroke-width="0.6"/>
<rect x="102.16" y="442.60" width="6.44" height="10.10" fill="#67001f" stroke="#9a9a9a" stroke-width="0.6"/>
<rect x="102.16" y="452.70" width="6.44" height="10.20" fill="#f7f7f7" stroke="#9a9a9a" stroke-width="0.6"/>
<rect x="102.16" y="462.90" width="6.44" height="10.20" fill="#f7f7f7" stroke="#9a9a9a" stroke-width="0.6"/>
<rect x="108.60" y="432.50" width="6.44" height="10.10" fill="#67001f" stroke="#9a9a9a" stroke-width="0.6"/>
<rect x="108.60" y="442.60" width="6.44" height="10.10" fill="#67001f" stroke="#9a9a9a" stroke-width="0.6"/>
<rect x="108.60" y="452.70" width="6.44" height="10.20" fill="#fddbc7" stroke="#9a9a9a" stroke-width="0.6"/>
<rect x="108.60" y="462.90" width="6.44" height="10.20" fill="#fddbc7" stroke="#9a9a9a" stroke-width="0.6"/>
<rect x="115.04" y="432.50" width="6.44" height="10.10" fill="#67001f" stroke="#9a9a9a" stroke-width="0.6"/>
<rect x="115.04" y="442.60" width="6.44" height="10.10" fill="#67001f" stroke="#9a9a9a" stroke-width="0.6"/>
<rect x="115.04" y="452.70" width="6.44" height="10.20" fill="#d1e5f0" stroke="#9a9a9a" stroke-width="0.6"/>
<rect x="115.04" y="462.90" width="6.44" height="10.20" fill="#fddbc7" stroke="#9a9a9a" stroke-width="0.6"/>
<rect x="121.48" y="432.50" width="6.44" height="10.10" fill="#b2182b" stroke="#9a9a9a" stroke-width="0.6"/>
<rect x="121.48" y="442.60" width="6.44" height="10.10" fill="#d6604d" stroke="#9a9a9a" stroke-width="0.6"/>
<rect x="121.48" y="452.70" width="6.44" height="10.20" fill="#fddbc7" stroke="#9a9a9a" stroke-width="0.6"/>
<rect x="121.48" y="462.90" width="6.44" height="10.20" fill="#f4a582" stroke="#9a9a9a" stroke-width="0.6"/>
<rect x="127.92" y="432.50" width="6.44" height="10.10" fill="#67001f" stroke="#9a9a9a" stroke-width="0.6"/>
<rect x="127.92" y="442.60" width="6.44" height="10.10" fill="#67001f" stroke="#9a9a9a" stroke-width="0.6"/>
<rect x="127.92" y="452.70" width="6.44" height="10.20" fill="#f7f7f7" stroke="#9a9a9a" stroke-width="0.6"/>
<rect x="127.92" y="462.90" width="6.44" height="10.20" fill="#f7f7f7" stroke="#9a9a9a" stroke-width="0.6"/>
<rect x="134.36" y="432.50" width="6.44" height="10.10" fill="#67001f" stroke="#9a9a9a" stroke-width="0.6"/>
<rect x="134.36" y="442.60" width="6.44" height="10.10" fill="#67001f" stroke="#9a9a9a" stroke-width="0.6"/>
<rect x="134.36" y="452.70" width="6.44" height="10.20" fill="#fddbc7" stroke="#9a9a9a" stroke-width="0.6"/>
<rect x="134.36" y="462.90" width="6.44" height="10.20" fill="#fddbc7" stroke="#9a9a9a" stroke-width="0.6"/>
<rect x="140.80" y="432.50" width="6.44" height="10.10" fill="#67001f" stroke="#9a9a9a" stroke-width="0.6"/>
<rect x="140.80" y="442.60" width="6.44" height="10.10" fill="#67001f" stroke="#9a9a9a" stroke-width="0.6"/>
<rect x="140.80" y="452.70" width="6.44" height="10.20" fill="#f4a582" stroke="#9a9a9a" stroke-width="0.6"/>
<rect x="140.80" y="462.90" width="6.44" height="10.20" fill="#d6604d" stroke="#9a9a9a" stroke-width="0.6"/>
<rect x="147.24" y="432.50" width="6.44" height="10.10" fill="#67001f" stroke="#9a9a9a" stroke-width="0.6"/>
<rect x="147.24" y="442.60" width="6.44" height="10.10" fill="#d6604d" stroke="#9a9a9a" stroke-width="0.6"/>
<rect x="147.24" y="452.70" width="6.44" height="10.20" fill="#f4a582" stroke="#9a9a9a" stroke-width="0.6"/>
<rect x="147.24" y="462.90" width="6.44" height="10.20" fill="#fddbc7" stroke="#9a9a9a" stroke-width="0.6"/>
<rect x="153.68" y="432.50" width="6.44" height="10.10" fill="#b2182b" stroke="#9a9a9a" stroke-width="0.6"/>
<rect x="153.68" y="442.60" width="6.44" height="10.10" fill="#67001f" stroke="#9a9a9a" stroke-width="0.6"/>
<rect x="153.68" y="452.70" width="6.44" height="10.20" fill="#2166ac" stroke="#9a9a9a" stroke-width="0.6"/>
<rect x="153.68" y="462.90" width="6.44" height="10.20" fill="#d1e5f0" stroke="#9a9a9a" stroke-width="0.6"/>
<rect x="160.12" y="432.50" width="6.44" height="10.10" fill="#67001f" stroke="#9a9a9a" stroke-width="0.6"/>
<rect x="160.12" y="442.60" width="6.44" height="10.10" fill="#f4a582" stroke="#9a9a9a" stroke-width="0.6"/>
<rect x="160.12" y="452.70" width="6.44" height="10.20" fill="#053061" stroke="#9a9a9a" stroke-width="0.6"/>
<rect x="160.12" y="462.90" width="6.44" height="10.20" fill="#053061" stroke="#9a9a9a" stroke-width="0.6"/>
<rect x="166.57" y="432.50" width="6.44" height="10.10" fill="#d6604d" stroke="#9a9a9a" stroke-width="0.6"/>
<rect x="166.57" y="442.60" width="6.44" height="10.10" fill="#fddbc7" stroke="#9a9a9a" stroke-width="0.6"/>
<rect x="166.57" y="452.70" width="6.44" height="10.20" fill="#fddbc7" stroke="#9a9a9a" stroke-width="0.6"/>
<rect x="166.57" y="462.90" width="6.44" height="10.20" fill="#fddbc7" stroke="#9a9a9a" stroke-width="0.6"/>
<rect x="173.01" y="432.50" width="6.44" height="10.10" fill="#67001f" stroke="#9a9a9a" stroke-width="0.6"/>
<rect x="173.01" y="442.60" width="6.44" height="10.10" fill="#67001f" stroke="#9a9a9a" stroke-width="0.6"/>
<rect x="173.01" y="452.70" width="6.44" height="10.20" fill="#f7f7f7" stroke="#9a9a9a" stroke-width="0.6"/>
<rect x="173.01" y="462.90" width="6.44" height="10.20" fill="#d1e5f0" stroke="#9a9a9a" stroke-width="0.6"/>
<rect x="179.45" y="432.50" width="6.44" height="10.10" fill="#b2182b" stroke="#9a9a9a" stroke-width="0.6"/>
<rect x="179.45" y="442.60" width="6.44" height="10.10" fill="#67001f" stroke="#9a9a9a" stroke-width="0.6"/>
<rect x="179.45" y="452.70" width="6.44" height="10.20" fill="#f7f7f7" stroke="#9a9a9a" stroke-width="0.6"/>
<rect x="179.45" y="462.90" width="6.44" height="10.20" fill="#d1e5f0" stroke="#9a9a9a" stroke-width="0.6"/>
<rect x="185.89" y="432.50" width="6.44" height="10.10" fill="#67001f" stroke="#9a9a9a" stroke-width="0.6"/>
<rect x="185.89" y="442.60" width="6.44" height="10.10" fill="#67001f" stroke="#9a9a9a" stroke-width="0.6"/>
<rect x="185.89" y="452.70" width="6.44" height="10.20" fill="#d6604d" stroke="#9a9a9a" stroke-width="0.6"/>
<rect x="185.89" y="462.90" width="6.44" height="10.20" fill="#d6604d" stroke="#9a9a9a" stroke-width="0.6"/>
<rect x="192.33" y="432.50" width="6.44" height="10.10" fill="#d6604d" stroke="#9a9a9a" stroke-width="0.6"/>
<rect x="192.33" y="442.60" width="6.44" height="10.10" fill="#f4a582" stroke="#9a9a9a" stroke-width="0.6"/>
<rect x="192.33" y="452.70" width="6.44" height="10.20" fill="#f4a582" stroke="#9a9a9a" stroke-width="0.6"/>
<rect x="192.33" y="462.90" width="6.44" height="10.20" fill="#f4a582" stroke="#9a9a9a" stroke-width="0.6"/>
<rect x="198.77" y="432.50" width="6.44" height="10.10" fill="#67001f" stroke="#9a9a9a" stroke-width="0.6"/>
<rect x="198.77" y="442.60" width="6.44" height="10.10" fill="#67001f" stroke="#9a9a9a" stroke-width="0.6"/>
<rect x="198.77" y="452.70" width="6.44" height="10.20" fill="#f7f7f7" stroke="#9a9a9a" stroke-width="0.6"/>
<rect x="198.77" y="462.90" width="6.44" height="10.20" fill="#f4a582" stroke="#9a9a9a" stroke-width="0.6"/>
<rect x="205.21" y="432.50" width="6.44" height="10.10" fill="#d6604d" stroke="#9a9a9a" stroke-width="0.6"/>
<rect x="205.21" y="442.60" width="6.44" height="10.10" fill="#d6604d" stroke="#9a9a9a" stroke-width="0.6"/>
<rect x="205.21" y="452.70" width="6.44" height="10.20" fill="#d1e5f0" stroke="#9a9a9a" stroke-width="0.6"/>
<rect x="205.21" y="462.90" width="6.44" height="10.20" fill="#f7f7f7" stroke="#9a9a9a" stroke-width="0.6"/>
<rect x="211.65" y="432.50" width="6.44" height="10.10" fill="#67001f" stroke="#9a9a9a" stroke-width="0.6"/>
<rect x="211.65" y="442.60" width="6.44" height="10.10" fill="#b2182b" stroke="#9a9a9a" stroke-width="0.6"/>
<rect x="211.65" y="452.70" width="6.44" height="10.20" fill="#fddbc7" stroke="#9a9a9a" stroke-width="0.6"/>
<rect x="211.65" y="462.90" width="6.44" height="10.20" fill="#fddbc7" stroke="#9a9a9a" stroke-width="0.6"/>
<rect x="218.09" y="432.50" width="6.44" height="10.10" fill="#b2182b" stroke="#9a9a9a" stroke-width="0.6"/>
<rect x="218.09" y="442.60" width="6.44" height="10.10" fill="#d6604d" stroke="#9a9a9a" stroke-width="0.6"/>
<rect x="218.09" y="452.70" width="6.44" height="10.20" fill="#f4a582" stroke="#9a9a9a" stroke-width="0.6"/>
<rect x="218.09" y="462.90" width="6.44" height="10.20" fill="#f4a582" stroke="#9a9a9a" stroke-width="0.6"/>
<rect x="224.53" y="432.50" width="6.44" height="10.10" fill="#d6604d" stroke="#9a9a9a" stroke-width="0.6"/>
<rect x="224.53" y="442.60" width="6.44" height="10.10" fill="#67001f" stroke="#9a9a9a" stroke-width="0.6"/>
<rect x="224.53" y="452.70" width="6.44" height="10.20" fill="#2166ac" stroke="#9a9a9a" stroke-width="0.6"/>
<rect x="224.53" y="462.90" width="6.44" height="10.20" fill="#f4a582" stroke="#9a9a9a" stroke-width="0.6"/>
<rect x="230.97" y="432.50" width="6.44" height="10.10" fill="#67001f" stroke="#9a9a9a" stroke-width="0.6"/>
<rect x="230.97" y="442.60" width="6.44" height="10.10" fill="#f4a582" stroke="#9a9a9a" stroke-width="0.6"/>
<rect x="230.97" y="452.70" width="6.44" height="10.20" fill="#f4a582" stroke="#9a9a9a" stroke-width="0.6"/>
<rect x="230.97" y="462.90" width="6.44" height="10.20" fill="#f4a582" stroke="#9a9a9a" stroke-width="0.6"/>
<rect x="237.41" y="432.50" width="6.44" height="10.10" fill="#67001f" stroke="#9a9a9a" stroke-width="0.6"/>
<rect x="237.41" y="442.60" width="6.44" height="10.10" fill="#67001f" stroke="#9a9a9a" stroke-width="0.6"/>
<rect x="237.41" y="452.70" width="6.44" height="10.20" fill="#f4a582" stroke="#9a9a9a" stroke-width="0.6"/>
<rect x="237.41" y="462.90" width="6.44" height="10.20" fill="#fddbc7" stroke="#9a9a9a" stroke-width="0.6"/>
<rect x="243.85" y="432.50" width="6.44" height="10.10" fill="#67001f" stroke="#9a9a9a" stroke-width="0.6"/>
<rect x="243.85" y="442.60" width="6.44" height="10.10" fill="#67001f" stroke="#9a9a9a" stroke-width="0.6"/>
<rect x="243.85" y="452.70" width="6.44" height="10.20" fill="#4393c3" stroke="#9a9a9a" stroke-width="0.6"/>
<rect x="243.85" y="462.90" width="6.44" height="10.20" fill="#f7f7f7" stroke="#9a9a9a" stroke-width="0.6"/>
<rect x="250.29" y="432.50" width="6.44" height="10.10" fill="#67001f" stroke="#9a9a9a" stroke-width="0.6"/>
<rect x="250.29" y="442.60" width="6.44" height="10.10" fill="#67001f" stroke="#9a9a9a" stroke-width="0.6"/>
<rect x="250.29" y="452.70" width="6.44" height="10.20" fill="#f7f7f7" stroke="#9a9a9a" stroke-width="0.6"/>
<rect x="250.29" y="462.90" width="6.44" height="10.20" fill="#d1e5f0" stroke="#9a9a9a" stroke-width="0.6"/>
<rect x="256.73" y="432.50" width="6.44" height="10.10" fill="#67001f" stroke="#9a9a9a" stroke-width="0.6"/>
<rect x="256.73" y="442.60" width="6.44" height="10.10" fill="#67001f" stroke="#9a9a9a" stroke-width="0.6"/>
<rect x="256.73" y="452.70" width="6.44" height="10.20" fill="#f4a582" stroke="#9a9a9a" stroke-width="0.6"/>
<rect x="256.73" y="462.90" width="6.44" height="10.20" fill="#f4a582" stroke="#9a9a9a" stroke-width="0.6"/>
<rect x="263.17" y="432.50" width="6.44" height="10.10" fill="#67001f" stroke="#9a9a9a" stroke-width="0.6"/>
<rect x="263.17" y="442.60" width="6.44" height="10.10" fill="#67001f" stroke="#9a9a9a" stroke-width="0.6"/>
<rect x="263.17" y="452.70" width="6.44" height="10.20" fill="#f7f7f7" stroke="#9a9a9a" stroke-width="0.6"/>
<rect x="263.17" y="462.90" width="6.44" height="10.20" fill="#fddbc7" stroke="#9a9a9a" stroke-width="0.6"/>
<rect x="269.61" y="432.50" width="6.44" height="10.10" fill="#67001f" stroke="#9a9a9a" stroke-width="0.6"/>
<rect x="269.61" y="442.60" width="6.44" height="10.10" fill="#67001f" stroke="#9a9a9a" stroke-width="0.6"/>
<rect x="269.61" y="452.70" width="6.44" height="10.20" fill="#fddbc7" stroke="#9a9a9a" stroke-width="0.6"/>
<rect x="269.61" y="462.90" width="6.44" height="10.20" fill="#f4a582" stroke="#9a9a9a" stroke-width="0.6"/>
<rect x="276.05" y="432.50" width="6.44" height="10.10" fill="#67001f" stroke="#9a9a9a" stroke-width="0.6"/>
<rect x="276.05" y="442.60" width="6.44" height="10.10" fill="#67001f" stroke="#9a9a9a" stroke-width="0.6"/>
<rect x="276.05" y="452.70" width="6.44" height="10.20" fill="#fddbc7" stroke="#9a9a9a" stroke-width="0.6"/>
<rect x="276.05" y="462.90" width="6.44" height="10.20" fill="#fddbc7" stroke="#9a9a9a" stroke-width="0.6"/>
<rect x="282.49" y="432.50" width="6.44" height="10.10" fill="#67001f" stroke="#9a9a9a" stroke-width="0.6"/>
<rect x="282.49" y="442.60" width="6.44" height="10.10" fill="#67001f" stroke="#9a9a9a" stroke-width="0.6"/>
<rect x="282.49" y="452.70" width="6.44" height="10.20" fill="#f7f7f7" stroke="#9a9a9a" stroke-width="0.6"/>
<rect x="282.49" y="462.90" width="6.44" height="10.20" fill="#fddbc7" stroke="#9a9a9a" stroke-width="0.6"/>
<rect x="288.93" y="432.50" width="6.44" height="10.10" fill="#67001f" stroke="#9a9a9a" stroke-width="0.6"/>
<rect x="288.93" y="442.60" width="6.44" height="10.10" fill="#67001f" stroke="#9a9a9a" stroke-width="0.6"/>
<rect x="288.93" y="452.70" width="6.44" height="10.20" fill="#f4a582" stroke="#9a9a9a" stroke-width="0.6"/>
<rect x="288.93" y="462.90" width="6.44" height="10.20" fill="#fddbc7" stroke="#9a9a9a" stroke-width="0.6"/>
<rect x="295.37" y="432.50" width="6.44" height="10.10" fill="#67001f" stroke="#9a9a9a" stroke-width="0.6"/>
<rect x="295.37" y="442.60" width="6.44" height="10.10" fill="#b2182b" stroke="#9a9a9a" stroke-width="0.6"/>
<rect x="295.37" y="452.70" width="6.44" height="10.20" fill="#f7f7f7" stroke="#9a9a9a" stroke-width="0.6"/>
<rect x="295.37" y="462.90" width="6.44" height="10.20" fill="#f4a582" stroke="#9a9a9a" stroke-width="0.6"/>
<rect x="301.81" y="432.50" width="6.44" height="10.10" fill="#d6604d" stroke="#9a9a9a" stroke-width="0.6"/>
<rect x="301.81" y="442.60" width="6.44" height="10.10" fill="#f4a582" stroke="#9a9a9a" stroke-width="0.6"/>
<rect x="301.81" y="452.70" width="6.44" height="10.20" fill="#f7f7f7" stroke="#9a9a9a" stroke-width="0.6"/>
<rect x="301.81" y="462.90" width="6.44" height="10.20" fill="#fddbc7" stroke="#9a9a9a" stroke-width="0.6"/>
<rect x="308.25" y="432.50" width="6.44" height="10.10" fill="#67001f" stroke="#9a9a9a" stroke-width="0.6"/>
<rect x="308.25" y="442.60" width="6.44" height="10.10" fill="#67001f" stroke="#9a9a9a" stroke-width="0.6"/>
<rect x="308.25" y="452.70" width="6.44" height="10.20" fill="#fddbc7" stroke="#9a9a9a" stroke-width="0.6"/>
<rect x="308.25" y="462.90" width="6.44" height="10.20" fill="#92c5de" stroke="#9a9a9a" stroke-width="0.6"/>
<rect x="314.69" y="432.50" width="6.44" height="10.10" fill="#b2182b" stroke="#9a9a9a" stroke-width="0.6"/>
<rect x="314.69" y="442.60" width="6.44" height="10.10" fill="#67001f" stroke="#9a9a9a" stroke-width="0.6"/>
<rect x="314.69" y="452.70" width="6.44" height="10.20" fill="#d1e5f0" stroke="#9a9a9a" stroke-width="0.6"/>
<rect x="314.69" y="462.90" width="6.44" height="10.20" fill="#f4a582" stroke="#9a9a9a" stroke-width="0.6"/>
<rect x="321.13" y="432.50" width="6.44" height="10.10" fill="#d6604d" stroke="#9a9a9a" stroke-width="0.6"/>
<rect x="321.13" y="442.60" width="6.44" height="10.10" fill="#67001f" stroke="#9a9a9a" stroke-width="0.6"/>
<rect x="321.13" y="452.70" width="6.44" height="10.20" fill="#d6604d" stroke="#9a9a9a" stroke-width="0.6"/>
<rect x="321.13" y="462.90" width="6.44" height="10.20" fill="#f4a582" stroke="#9a9a9a" stroke-width="0.6"/>
<rect x="327.57" y="432.50" width="6.44" height="10.10" fill="#d1e5f0" stroke="#9a9a9a" stroke-width="0.6"/>
<rect x="327.57" y="442.60" width="6.44" height="10.10" fill="#f4a582" stroke="#9a9a9a" stroke-width="0.6"/>
<rect x="327.57" y="452.70" width="6.44" height="10.20" fill="#4393c3" stroke="#9a9a9a" stroke-width="0.6"/>
<rect x="327.57" y="462.90" width="6.44" height="10.20" fill="#f7f7f7" stroke="#9a9a9a" stroke-width="0.6"/>
<rect x="334.01" y="432.50" width="6.44" height="10.10" fill="#f7f7f7" stroke="#9a9a9a" stroke-width="0.6"/>
<rect x="334.01" y="442.60" width="6.44" height="10.10" fill="#fddbc7" stroke="#9a9a9a" stroke-width="0.6"/>
<rect x="334.01" y="452.70" width="6.44" height="10.20" fill="#fddbc7" stroke="#9a9a9a" stroke-width="0.6"/>
<rect x="334.01" y="462.90" width="6.44" height="10.20" fill="#fddbc7" stroke="#9a9a9a" stroke-width="0.6"/>
<rect x="340.45" y="432.50" width="6.44" height="10.10" fill="#fddbc7" stroke="#9a9a9a" stroke-width="0.6"/>
<rect x="340.45" y="442.60" width="6.44" height="10.10" fill="#67001f" stroke="#9a9a9a" stroke-width="0.6"/>
<rect x="340.45" y="452.70" width="6.44" height="10.20" fill="#f7f7f7" stroke="#9a9a9a" stroke-width="0.6"/>
<rect x="340.45" y="462.90" width="6.44" height="10.20" fill="#f4a582" stroke="#9a9a9a" stroke-width="0.6"/>
<rect x="346.89" y="432.50" width="6.44" height="10.10" fill="#f7f7f7" stroke="#9a9a9a" stroke-width="0.6"/>
<rect x="346.89" y="442.60" width="6.44" height="10.10" fill="#f4a582" stroke="#9a9a9a" stroke-width="0.6"/>
<rect x="346.89" y="452.70" width="6.44" height="10.20" fill="#f7f7f7" stroke="#9a9a9a" stroke-width="0.6"/>
<rect x="346.89" y="462.90" width="6.44" height="10.20" fill="#f4a582" stroke="#9a9a9a" stroke-width="0.6"/>
<rect x="353.33" y="432.50" width="6.44" height="10.10" fill="#d6604d" stroke="#9a9a9a" stroke-width="0.6"/>
<rect x="353.33" y="442.60" width="6.44" height="10.10" fill="#f4a582" stroke="#9a9a9a" stroke-width="0.6"/>
<rect x="353.33" y="452.70" width="6.44" height="10.20" fill="#f7f7f7" stroke="#9a9a9a" stroke-width="0.6"/>
<rect x="353.33" y="462.90" width="6.44" height="10.20" fill="#f7f7f7" stroke="#9a9a9a" stroke-width="0.6"/>
<rect x="359.77" y="432.50" width="6.44" height="10.10" fill="#f4a582" stroke="#9a9a9a" stroke-width="0.6"/>
<rect x="359.77" y="442.60" width="6.44" height="10.10" fill="#f4a582" stroke="#9a9a9a" stroke-width="0.6"/>
<rect x="359.77" y="452.70" width="6.44" height="10.20" fill="#fddbc7" stroke="#9a9a9a" stroke-width="0.6"/>
<rect x="359.77" y="462.90" width="6.44" height="10.20" fill="#f7f7f7" stroke="#9a9a9a" stroke-width="0.6"/>
<rect x="366.21" y="432.50" width="6.44" height="10.10" fill="#d1e5f0" stroke="#9a9a9a" stroke-width="0.6"/>
<rect x="366.21" y="442.60" width="6.44" height="10.10" fill="#f4a582" stroke="#9a9a9a" stroke-width="0.6"/>
<rect x="366.21" y="452.70" width="6.44" height="10.20" fill="#f7f7f7" stroke="#9a9a9a" stroke-width="0.6"/>
<rect x="366.21" y="462.90" width="6.44" height="10.20" fill="#f7f7f7" stroke="#9a9a9a" stroke-width="0.6"/>
<rect x="372.65" y="432.50" width="6.44" height="10.10" fill="#fddbc7" stroke="#9a9a9a" stroke-width="0.6"/>
<rect x="372.65" y="442.60" width="6.44" height="10.10" fill="#d6604d" stroke="#9a9a9a" stroke-width="0.6"/>
<rect x="372.65" y="452.70" width="6.44" height="10.20" fill="#f7f7f7" stroke="#9a9a9a" stroke-width="0.6"/>
<rect x="372.65" y="462.90" width="6.44" height="10.20" fill="#f4a582" stroke="#9a9a9a" stroke-width="0.6"/>
<rect x="379.09" y="432.50" width="6.44" height="10.10" fill="#f7f7f7" stroke="#9a9a9a" stroke-width="0.6"/>
<rect x="379.09" y="442.60" width="6.44" height="10.10" fill="#67001f" stroke="#9a9a9a" stroke-width="0.6"/>
<rect x="379.09" y="452.70" width="6.44" height="10.20" fill="#fddbc7" stroke="#9a9a9a" stroke-width="0.6"/>
<rect x="379.09" y="462.90" width="6.44" height="10.20" fill="#f4a582" stroke="#9a9a9a" stroke-width="0.6"/>
<rect x="385.53" y="432.50" width="6.44" height="10.10" fill="#fddbc7" stroke="#9a9a9a" stroke-width="0.6"/>
<rect x="385.53" y="442.60" width="6.44" height="10.10" fill="#d6604d" stroke="#9a9a9a" stroke-width="0.6"/>
<rect x="385.53" y="452.70" width="6.44" height="10.20" fill="#fddbc7" stroke="#9a9a9a" stroke-width="0.6"/>
<rect x="385.53" y="462.90" width="6.44" height="10.20" fill="#f4a582" stroke="#9a9a9a" stroke-width="0.6"/>
<rect x="391.97" y="432.50" width="6.44" height="10.10" fill="#f4a582" stroke="#9a9a9a" stroke-width="0.6"/>
<rect x="391.97" y="442.60" width="6.44" height="10.10" fill="#f4a582" stroke="#9a9a9a" stroke-width="0.6"/>
<rect x="391.97" y="452.70" width="6.44" height="10.20" fill="#f7f7f7" stroke="#9a9a9a" stroke-width="0.6"/>
<rect x="391.97" y="462.90" width="6.44" height="10.20" fill="#fddbc7" stroke="#9a9a9a" stroke-width="0.6"/>
<rect x="398.42" y="432.50" width="6.44" height="10.10" fill="#f7f7f7" stroke="#9a9a9a" stroke-width="0.6"/>
<rect x="398.42" y="442.60" width="6.44" height="10.10" fill="#d6604d" stroke="#9a9a9a" stroke-width="0.6"/>
<rect x="398.42" y="452.70" width="6.44" height="10.20" fill="#f7f7f7" stroke="#9a9a9a" stroke-width="0.6"/>
<rect x="398.42" y="462.90" width="6.44" height="10.20" fill="#fddbc7" stroke="#9a9a9a" stroke-width="0.6"/>
<rect x="404.86" y="432.50" width="6.44" height="10.10" fill="#d1e5f0" stroke="#9a9a9a" stroke-width="0.6"/>
<rect x="404.86" y="442.60" width="6.44" height="10.10" fill="#fddbc7" stroke="#9a9a9a" stroke-width="0.6"/>
<rect x="404.86" y="452.70" width="6.44" height="10.20" fill="#d1e5f0" stroke="#9a9a9a" stroke-width="0.6"/>
<rect x="404.86" y="462.90" width="6.44" height="10.20" fill="#d1e5f0" stroke="#9a9a9a" stroke-width="0.6"/>
<rect x="411.30" y="432.50" width="6.44" height="10.10" fill="#fddbc7" stroke="#9a9a9a" stroke-width="0.6"/>
<rect x="411.30" y="442.60" width="6.44" height="10.10" fill="#d6604d" stroke="#9a9a9a" stroke-width="0.6"/>
<rect x="411.30" y="452.70" width="6.44" height="10.20" fill="#f7f7f7" stroke="#9a9a9a" stroke-width="0.6"/>
<rect x="411.30" y="462.90" width="6.44" height="10.20" fill="#fddbc7" stroke="#9a9a9a" stroke-width="0.6"/>
<rect x="417.74" y="432.50" width="6.44" height="10.10" fill="#f7f7f7" stroke="#9a9a9a" stroke-width="0.6"/>
<rect x="417.74" y="442.60" width="6.44" height="10.10" fill="#fddbc7" stroke="#9a9a9a" stroke-width="0.6"/>
<rect x="417.74" y="452.70" width="6.44" height="10.20" fill="#fddbc7" stroke="#9a9a9a" stroke-width="0.6"/>
<rect x="417.74" y="462.90" width="6.44" height="10.20" fill="#fddbc7" stroke="#9a9a9a" stroke-width="0.6"/>
<rect x="424.18" y="432.50" width="6.44" height="10.10" fill="#d1e5f0" stroke="#9a9a9a" stroke-width="0.6"/>
<rect x="424.18" y="442.60" width="6.44" height="10.10" fill="#d6604d" stroke="#9a9a9a" stroke-width="0.6"/>
<rect x="424.18" y="452.70" width="6.44" height="10.20" fill="#2166ac" stroke="#9a9a9a" stroke-width="0.6"/>
<rect x="424.18" y="462.90" width="6.44" height="10.20" fill="#92c5de" stroke="#9a9a9a" stroke-width="0.6"/>
<rect x="430.62" y="432.50" width="6.44" height="10.10" fill="#fddbc7" stroke="#9a9a9a" stroke-width="0.6"/>
<rect x="430.62" y="442.60" width="6.44" height="10.10" fill="#f7f7f7" stroke="#9a9a9a" stroke-width="0.6"/>
<rect x="430.62" y="452.70" width="6.44" height="10.20" fill="#fddbc7" stroke="#9a9a9a" stroke-width="0.6"/>
<rect x="430.62" y="462.90" width="6.44" height="10.20" fill="#fddbc7" stroke="#9a9a9a" stroke-width="0.6"/>
<rect x="437.06" y="432.50" width="6.44" height="10.10" fill="#d6604d" stroke="#9a9a9a" stroke-width="0.6"/>
<rect x="437.06" y="442.60" width="6.44" height="10.10" fill="#f7f7f7" stroke="#9a9a9a" stroke-width="0.6"/>
<rect x="437.06" y="452.70" width="6.44" height="10.20" fill="#fddbc7" stroke="#9a9a9a" stroke-width="0.6"/>
<rect x="437.06" y="462.90" width="6.44" height="10.20" fill="#92c5de" stroke="#9a9a9a" stroke-width="0.6"/>
<rect x="443.50" y="432.50" width="6.44" height="10.10" fill="#f4a582" stroke="#9a9a9a" stroke-width="0.6"/>
<rect x="443.50" y="442.60" width="6.44" height="10.10" fill="#f7f7f7" stroke="#9a9a9a" stroke-width="0.6"/>
<rect x="443.50" y="452.70" width="6.44" height="10.20" fill="#fddbc7" stroke="#9a9a9a" stroke-width="0.6"/>
<rect x="443.50" y="462.90" width="6.44" height="10.20" fill="#fddbc7" stroke="#9a9a9a" stroke-width="0.6"/>
<rect x="449.94" y="432.50" width="6.44" height="10.10" fill="#b2182b" stroke="#9a9a9a" stroke-width="0.6"/>
<rect x="449.94" y="442.60" width="6.44" height="10.10" fill="#f4a582" stroke="#9a9a9a" stroke-width="0.6"/>
<rect x="449.94" y="452.70" width="6.44" height="10.20" fill="#fddbc7" stroke="#9a9a9a" stroke-width="0.6"/>
<rect x="449.94" y="462.90" width="6.44" height="10.20" fill="#fddbc7" stroke="#9a9a9a" stroke-width="0.6"/>
<rect x="456.38" y="432.50" width="6.44" height="10.10" fill="#d6604d" stroke="#9a9a9a" stroke-width="0.6"/>
<rect x="456.38" y="442.60" width="6.44" height="10.10" fill="#f7f7f7" stroke="#9a9a9a" stroke-width="0.6"/>
<rect x="456.38" y="452.70" width="6.44" height="10.20" fill="#fddbc7" stroke="#9a9a9a" stroke-width="0.6"/>
<rect x="456.38" y="462.90" width="6.44" height="10.20" fill="#fddbc7" stroke="#9a9a9a" stroke-width="0.6"/>
<rect x="462.82" y="432.50" width="6.44" height="10.10" fill="#b2182b" stroke="#9a9a9a" stroke-width="0.6"/>
<rect x="462.82" y="442.60" width="6.44" height="10.10" fill="#f7f7f7" stroke="#9a9a9a" stroke-width="0.6"/>
<rect x="462.82" y="452.70" width="6.44" height="10.20" fill="#d1e5f0" stroke="#9a9a9a" stroke-width="0.6"/>
<rect x="462.82" y="462.90" width="6.44" height="10.20" fill="#053061" stroke="#9a9a9a" stroke-width="0.6"/>
<rect x="469.26" y="432.50" width="6.44" height="10.10" fill="#b2182b" stroke="#9a9a9a" stroke-width="0.6"/>
<rect x="469.26" y="442.60" width="6.44" height="10.10" fill="#fddbc7" stroke="#9a9a9a" stroke-width="0.6"/>
<rect x="469.26" y="452.70" width="6.44" height="10.20" fill="#f4a582" stroke="#9a9a9a" stroke-width="0.6"/>
<rect x="469.26" y="462.90" width="6.44" height="10.20" fill="#f4a582" stroke="#9a9a9a" stroke-width="0.6"/>
<rect x="475.70" y="432.50" width="6.44" height="10.10" fill="#67001f" stroke="#9a9a9a" stroke-width="0.6"/>
<rect x="475.70" y="442.60" width="6.44" height="10.10" fill="#fddbc7" stroke="#9a9a9a" stroke-width="0.6"/>
<rect x="475.70" y="452.70" width="6.44" height="10.20" fill="#f4a582" stroke="#9a9a9a" stroke-width="0.6"/>
<rect x="475.70" y="462.90" width="6.44" height="10.20" fill="#f7f7f7" stroke="#9a9a9a" stroke-width="0.6"/>
<rect x="482.14" y="432.50" width="6.44" height="10.10" fill="#67001f" stroke="#9a9a9a" stroke-width="0.6"/>
<rect x="482.14" y="442.60" width="6.44" height="10.10" fill="#f4a582" stroke="#9a9a9a" stroke-width="0.6"/>
<rect x="482.14" y="452.70" width="6.44" height="10.20" fill="#d6604d" stroke="#9a9a9a" stroke-width="0.6"/>
<rect x="482.14" y="462.90" width="6.44" height="10.20" fill="#f4a582" stroke="#9a9a9a" stroke-width="0.6"/>
<rect x="488.58" y="432.50" width="6.44" height="10.10" fill="#67001f" stroke="#9a9a9a" stroke-width="0.6"/>
<rect x="488.58" y="442.60" width="6.44" height="10.10" fill="#f4a582" stroke="#9a9a9a" stroke-width="0.6"/>
<rect x="488.58" y="452.70" width="6.44" height="10.20" fill="#d1e5f0" stroke="#9a9a9a" stroke-width="0.6"/>
<rect x="488.58" y="462.90" width="6.44" height="10.20" fill="#f4a582" stroke="#9a9a9a" stroke-width="0.6"/>
<rect x="495.02" y="432.50" width="6.44" height="10.10" fill="#67001f" stroke="#9a9a9a" stroke-width="0.6"/>
<rect x="495.02" y="442.60" width="6.44" height="10.10" fill="#fddbc7" stroke="#9a9a9a" stroke-width="0.6"/>
<rect x="495.02" y="452.70" width="6.44" height="10.20" fill="#d6604d" stroke="#9a9a9a" stroke-width="0.6"/>
<rect x="495.02" y="462.90" width="6.44" height="10.20" fill="#fddbc7" stroke="#9a9a9a" stroke-width="0.6"/>
<rect x="501.46" y="432.50" width="6.44" height="10.10" fill="#f4a582" stroke="#9a9a9a" stroke-width="0.6"/>
<rect x="501.46" y="442.60" width="6.44" height="10.10" fill="#f7f7f7" stroke="#9a9a9a" stroke-width="0.6"/>
<rect x="501.46" y="452.70" width="6.44" height="10.20" fill="#fddbc7" stroke="#9a9a9a" stroke-width="0.6"/>
<rect x="501.46" y="462.90" width="6.44" height="10.20" fill="#fddbc7" stroke="#9a9a9a" stroke-width="0.6"/>
<text transform="translate(49.72 430.0) rotate(-90)" font-size="6.4" fill="#231f20" stroke="#231f20" stroke-width="0.15" textLength="24.67" lengthAdjust="spacingAndGlyphs">Arhgef18</text>
<text transform="translate(56.16 430.0) rotate(-90)" font-size="6.4" fill="#231f20" stroke="#231f20" stroke-width="0.15" textLength="17.57" lengthAdjust="spacingAndGlyphs">Arid3a</text>
<text transform="translate(62.60 430.0) rotate(-90)" font-size="6.4" fill="#231f20" stroke="#231f20" stroke-width="0.15" textLength="14.19" lengthAdjust="spacingAndGlyphs">Arih2</text>
<text transform="translate(69.04 430.0) rotate(-90)" font-size="6.4" fill="#231f20" stroke="#231f20" stroke-width="0.15" textLength="16.56" lengthAdjust="spacingAndGlyphs">Ascc2</text>
<text transform="translate(75.48 430.0) rotate(-90)" font-size="6.4" fill="#231f20" stroke="#231f20" stroke-width="0.15" textLength="12.50" lengthAdjust="spacingAndGlyphs">B2m</text>
<text transform="translate(81.92 430.0) rotate(-90)" font-size="6.4" fill="#231f20" stroke="#231f20" stroke-width="0.15" textLength="20.62" lengthAdjust="spacingAndGlyphs">B4galt1</text>
<text transform="translate(88.36 430.0) rotate(-90)" font-size="6.4" fill="#231f20" stroke="#231f20" stroke-width="0.15" textLength="14.20" lengthAdjust="spacingAndGlyphs">Bag6</text>
<text transform="translate(94.80 430.0) rotate(-90)" font-size="6.4" fill="#231f20" stroke="#231f20" stroke-width="0.15" textLength="12.84" lengthAdjust="spacingAndGlyphs">Brd3</text>
<text transform="translate(101.24 430.0) rotate(-90)" font-size="6.4" fill="#231f20" stroke="#231f20" stroke-width="0.15" textLength="14.53" lengthAdjust="spacingAndGlyphs">Cd47</text>
<text transform="translate(107.68 430.0) rotate(-90)" font-size="6.4" fill="#231f20" stroke="#231f20" stroke-width="0.15" textLength="11.15" lengthAdjust="spacingAndGlyphs">Cr1l</text>
<text transform="translate(114.12 430.0) rotate(-90)" font-size="6.4" fill="#231f20" stroke="#231f20" stroke-width="0.15" textLength="14.53" lengthAdjust="spacingAndGlyphs">Csf3r</text>
<text transform="translate(120.56 430.0) rotate(-90)" font-size="6.4" fill="#231f20" stroke="#231f20" stroke-width="0.15" textLength="15.88" lengthAdjust="spacingAndGlyphs">Cxcr4</text>
<text transform="translate(127.00 430.0) rotate(-90)" font-size="6.4" fill="#231f20" stroke="#231f20" stroke-width="0.15" textLength="22.20" lengthAdjust="spacingAndGlyphs">Dnajb11</text>
<text transform="translate(133.44 430.0) rotate(-90)" font-size="6.4" fill="#231f20" stroke="#231f20" stroke-width="0.15" textLength="20.96" lengthAdjust="spacingAndGlyphs">Erbb2ip</text>
<text transform="translate(139.88 430.0) rotate(-90)" font-size="6.4" fill="#231f20" stroke="#231f20" stroke-width="0.15" textLength="19.25" lengthAdjust="spacingAndGlyphs">Fermt3</text>
<text transform="translate(146.32 430.0) rotate(-90)" font-size="6.4" fill="#231f20" stroke="#231f20" stroke-width="0.15" textLength="7.77" lengthAdjust="spacingAndGlyphs">Flii</text>
<text transform="translate(152.76 430.0) rotate(-90)" font-size="6.4" fill="#231f20" stroke="#231f20" stroke-width="0.15" textLength="16.22" lengthAdjust="spacingAndGlyphs">Gnai3</text>
<text transform="translate(159.20 430.0) rotate(-90)" font-size="6.4" fill="#231f20" stroke="#231f20" stroke-width="0.15" textLength="12.84" lengthAdjust="spacingAndGlyphs">Ikzf1</text>
<text transform="translate(165.65 430.0) rotate(-90)" font-size="6.4" fill="#231f20" stroke="#231f20" stroke-width="0.15" textLength="16.22" lengthAdjust="spacingAndGlyphs">Insig1</text>
<text transform="translate(172.09 430.0) rotate(-90)" font-size="6.4" fill="#231f20" stroke="#231f20" stroke-width="0.15" textLength="13.52" lengthAdjust="spacingAndGlyphs">Itga4</text>
<text transform="translate(178.53 430.0) rotate(-90)" font-size="6.4" fill="#231f20" stroke="#231f20" stroke-width="0.15" textLength="13.52" lengthAdjust="spacingAndGlyphs">Itgb1</text>
<text transform="translate(184.97 430.0) rotate(-90)" font-size="6.4" fill="#231f20" stroke="#231f20" stroke-width="0.15" textLength="16.56" lengthAdjust="spacingAndGlyphs">Jarid2</text>
<text transform="translate(191.41 430.0) rotate(-90)" font-size="6.4" fill="#231f20" stroke="#231f20" stroke-width="0.15" textLength="19.26" lengthAdjust="spacingAndGlyphs">Kdm2b</text>
<text transform="translate(197.85 430.0) rotate(-90)" font-size="6.4" fill="#231f20" stroke="#231f20" stroke-width="0.15" textLength="13.41" lengthAdjust="spacingAndGlyphs">Kif11</text>
<text transform="translate(204.29 430.0) rotate(-90)" font-size="6.4" fill="#231f20" stroke="#231f20" stroke-width="0.15" textLength="18.25" lengthAdjust="spacingAndGlyphs">Pik3cg</text>
<text transform="translate(210.73 430.0) rotate(-90)" font-size="6.4" fill="#231f20" stroke="#231f20" stroke-width="0.15" textLength="15.21" lengthAdjust="spacingAndGlyphs">Plac8</text>
<text transform="translate(217.17 430.0) rotate(-90)" font-size="6.4" fill="#231f20" stroke="#231f20" stroke-width="0.15" textLength="13.18" lengthAdjust="spacingAndGlyphs">Plcl2</text>
<text transform="translate(223.61 430.0) rotate(-90)" font-size="6.4" fill="#231f20" stroke="#231f20" stroke-width="0.15" textLength="12.50" lengthAdjust="spacingAndGlyphs">Rai1</text>
<text transform="translate(230.05 430.0) rotate(-90)" font-size="6.4" fill="#231f20" stroke="#231f20" stroke-width="0.15" textLength="17.57" lengthAdjust="spacingAndGlyphs">Rc3h1</text>
<text transform="translate(236.49 430.0) rotate(-90)" font-size="6.4" fill="#231f20" stroke="#231f20" stroke-width="0.15" textLength="19.60" lengthAdjust="spacingAndGlyphs">Rnf19b</text>
<text transform="translate(242.93 430.0) rotate(-90)" font-size="6.4" fill="#231f20" stroke="#231f20" stroke-width="0.15" textLength="17.23" lengthAdjust="spacingAndGlyphs">Rock1</text>
<text transform="translate(249.37 430.0) rotate(-90)" font-size="6.4" fill="#231f20" stroke="#231f20" stroke-width="0.15" textLength="17.57" lengthAdjust="spacingAndGlyphs">Runx1</text>
<text transform="translate(255.81 430.0) rotate(-90)" font-size="6.4" fill="#231f20" stroke="#231f20" stroke-width="0.15" textLength="17.24" lengthAdjust="spacingAndGlyphs">Sec62</text>
<text transform="translate(262.25 430.0) rotate(-90)" font-size="6.4" fill="#231f20" stroke="#231f20" stroke-width="0.15" textLength="21.97" lengthAdjust="spacingAndGlyphs">Slc19a1</text>
<text transform="translate(268.69 430.0) rotate(-90)" font-size="6.4" fill="#231f20" stroke="#231f20" stroke-width="0.15" textLength="18.59" lengthAdjust="spacingAndGlyphs">Slc5a6</text>
<text transform="translate(275.13 430.0) rotate(-90)" font-size="6.4" fill="#231f20" stroke="#231f20" stroke-width="0.15" textLength="13.18" lengthAdjust="spacingAndGlyphs">Tap1</text>
<text transform="translate(281.57 430.0) rotate(-90)" font-size="6.4" fill="#231f20" stroke="#231f20" stroke-width="0.15" textLength="13.18" lengthAdjust="spacingAndGlyphs">Tap2</text>
<text transform="translate(288.01 430.0) rotate(-90)" font-size="6.4" fill="#231f20" stroke="#231f20" stroke-width="0.15" textLength="16.56" lengthAdjust="spacingAndGlyphs">Tapbp</text>
<text transform="translate(294.45 430.0) rotate(-90)" font-size="6.4" fill="#231f20" stroke="#231f20" stroke-width="0.15" textLength="11.83" lengthAdjust="spacingAndGlyphs">Tln1</text>
<text transform="translate(300.89 430.0) rotate(-90)" font-size="6.4" fill="#231f20" stroke="#231f20" stroke-width="0.15" textLength="15.20" lengthAdjust="spacingAndGlyphs">Tpst2</text>
<text transform="translate(307.33 430.0) rotate(-90)" font-size="6.4" fill="#231f20" stroke="#231f20" stroke-width="0.15" textLength="19.03" lengthAdjust="spacingAndGlyphs">Trmt12</text>
<text transform="translate(313.77 430.0) rotate(-90)" font-size="6.4" fill="#231f20" stroke="#231f20" stroke-width="0.15" textLength="16.22" lengthAdjust="spacingAndGlyphs">Ube2f</text>
<text transform="translate(320.21 430.0) rotate(-90)" font-size="6.4" fill="#231f20" stroke="#231f20" stroke-width="0.15" textLength="12.50" lengthAdjust="spacingAndGlyphs">Usf2</text>
<text transform="translate(326.65 430.0) rotate(-90)" font-size="6.4" fill="#231f20" stroke="#231f20" stroke-width="0.15" textLength="43.27" lengthAdjust="spacingAndGlyphs">0610010K14Rik</text>
<text transform="translate(333.09 430.0) rotate(-90)" font-size="6.4" fill="#231f20" stroke="#231f20" stroke-width="0.15" textLength="43.94" lengthAdjust="spacingAndGlyphs">2510039O18Rik</text>
<text transform="translate(339.53 430.0) rotate(-90)" font-size="6.4" fill="#231f20" stroke="#231f20" stroke-width="0.15" textLength="43.94" lengthAdjust="spacingAndGlyphs">9030617O03Rik</text>
<text transform="translate(345.97 430.0) rotate(-90)" font-size="6.4" fill="#231f20" stroke="#231f20" stroke-width="0.15" textLength="14.87" lengthAdjust="spacingAndGlyphs">Bzw1</text>
<text transform="translate(352.41 430.0) rotate(-90)" font-size="6.4" fill="#231f20" stroke="#231f20" stroke-width="0.15" textLength="13.85" lengthAdjust="spacingAndGlyphs">Furin</text>
<text transform="translate(358.85 430.0) rotate(-90)" font-size="6.4" fill="#231f20" stroke="#231f20" stroke-width="0.15" textLength="12.84" lengthAdjust="spacingAndGlyphs">Glg1</text>
<text transform="translate(365.29 430.0) rotate(-90)" font-size="6.4" fill="#231f20" stroke="#231f20" stroke-width="0.15" textLength="12.16" lengthAdjust="spacingAndGlyphs">Ifrd2</text>
<text transform="translate(371.73 430.0) rotate(-90)" font-size="6.4" fill="#231f20" stroke="#231f20" stroke-width="0.15" textLength="10.48" lengthAdjust="spacingAndGlyphs">Klf5</text>
<text transform="translate(378.17 430.0) rotate(-90)" font-size="6.4" fill="#231f20" stroke="#231f20" stroke-width="0.15" textLength="16.90" lengthAdjust="spacingAndGlyphs">Mef2d</text>
<text transform="translate(384.61 430.0) rotate(-90)" font-size="6.4" fill="#231f20" stroke="#231f20" stroke-width="0.15" textLength="16.56" lengthAdjust="spacingAndGlyphs">Mtch1</text>
<text transform="translate(391.05 430.0) rotate(-90)" font-size="6.4" fill="#231f20" stroke="#231f20" stroke-width="0.15" textLength="21.29" lengthAdjust="spacingAndGlyphs">Mybpc3</text>
<text transform="translate(397.50 430.0) rotate(-90)" font-size="6.4" fill="#231f20" stroke="#231f20" stroke-width="0.15" textLength="15.55" lengthAdjust="spacingAndGlyphs">Patz1</text>
<text transform="translate(403.94 430.0) rotate(-90)" font-size="6.4" fill="#231f20" stroke="#231f20" stroke-width="0.15" textLength="15.55" lengthAdjust="spacingAndGlyphs">Ptgs2</text>
<text transform="translate(410.38 430.0) rotate(-90)" font-size="6.4" fill="#231f20" stroke="#231f20" stroke-width="0.15" textLength="21.97" lengthAdjust="spacingAndGlyphs">Slc10a7</text>
<text transform="translate(416.82 430.0) rotate(-90)" font-size="6.4" fill="#231f20" stroke="#231f20" stroke-width="0.15" textLength="19.27" lengthAdjust="spacingAndGlyphs">Spata4</text>
<text transform="translate(423.26 430.0) rotate(-90)" font-size="6.4" fill="#231f20" stroke="#231f20" stroke-width="0.15" textLength="14.20" lengthAdjust="spacingAndGlyphs">Stat3</text>
<text transform="translate(429.70 430.0) rotate(-90)" font-size="6.4" fill="#231f20" stroke="#231f20" stroke-width="0.15" textLength="22.99" lengthAdjust="spacingAndGlyphs">Tax1bp1</text>
<text transform="translate(436.14 430.0) rotate(-90)" font-size="6.4" fill="#231f20" stroke="#231f20" stroke-width="0.15" textLength="15.55" lengthAdjust="spacingAndGlyphs">Zfp28</text>
<text transform="translate(442.58 430.0) rotate(-90)" font-size="6.4" fill="#231f20" stroke="#231f20" stroke-width="0.15" textLength="15.55" lengthAdjust="spacingAndGlyphs">Bod1l</text>
<text transform="translate(449.02 430.0) rotate(-90)" font-size="6.4" fill="#231f20" stroke="#231f20" stroke-width="0.15" textLength="15.89" lengthAdjust="spacingAndGlyphs">Btbd6</text>
<text transform="translate(455.46 430.0) rotate(-90)" font-size="6.4" fill="#231f20" stroke="#231f20" stroke-width="0.15" textLength="15.21" lengthAdjust="spacingAndGlyphs">Fnip1</text>
<text transform="translate(461.90 430.0) rotate(-90)" font-size="6.4" fill="#231f20" stroke="#231f20" stroke-width="0.15" textLength="6.08" lengthAdjust="spacingAndGlyphs">Ilk</text>
<text transform="translate(468.34 430.0) rotate(-90)" font-size="6.4" fill="#231f20" stroke="#231f20" stroke-width="0.15" textLength="17.23" lengthAdjust="spacingAndGlyphs">Kmt2c</text>
<text transform="translate(474.78 430.0) rotate(-90)" font-size="6.4" fill="#231f20" stroke="#231f20" stroke-width="0.15" textLength="18.25" lengthAdjust="spacingAndGlyphs">Mapk6</text>
<text transform="translate(481.22 430.0) rotate(-90)" font-size="6.4" fill="#231f20" stroke="#231f20" stroke-width="0.15" textLength="12.84" lengthAdjust="spacingAndGlyphs">Nat6</text>
<text transform="translate(487.66 430.0) rotate(-90)" font-size="6.4" fill="#231f20" stroke="#231f20" stroke-width="0.15" textLength="13.86" lengthAdjust="spacingAndGlyphs">Phc2</text>
<text transform="translate(494.10 430.0) rotate(-90)" font-size="6.4" fill="#231f20" stroke="#231f20" stroke-width="0.15" textLength="13.63" lengthAdjust="spacingAndGlyphs">Trip4</text>
<text transform="translate(500.54 430.0) rotate(-90)" font-size="6.4" fill="#231f20" stroke="#231f20" stroke-width="0.15" textLength="15.54" lengthAdjust="spacingAndGlyphs">Wipf1</text>
<text transform="translate(506.98 430.0) rotate(-90)" font-size="6.4" fill="#231f20" stroke="#231f20" stroke-width="0.15" textLength="9.79" lengthAdjust="spacingAndGlyphs">Zyx</text>
<text x="41.00" y="439.50" font-size="7.8" text-anchor="end" fill="#231f20" stroke="#231f20" stroke-width="0.18" textLength="25.10" lengthAdjust="spacingAndGlyphs" >HM vivo</text>
<text x="41.00" y="449.60" font-size="7.8" text-anchor="end" fill="#231f20" stroke="#231f20" stroke-width="0.18" textLength="24.30" lengthAdjust="spacingAndGlyphs" >MA vivo</text>
<text x="41.00" y="459.70" font-size="7.8" text-anchor="end" fill="#231f20" stroke="#231f20" stroke-width="0.18" textLength="26.20" lengthAdjust="spacingAndGlyphs" >HM vitro</text>
<text x="41.00" y="469.80" font-size="7.8" text-anchor="end" fill="#231f20" stroke="#231f20" stroke-width="0.18" textLength="25.70" lengthAdjust="spacingAndGlyphs" >MA vitro</text>
<rect x="44.2" y="475.8" width="276.9" height="4.4" fill="#000"/>
<rect x="321.6" y="476.3" width="115.4" height="3.6" fill="#fff" stroke="#000" stroke-width="0.9"/>
<rect x="437.3" y="475.8" width="70.6" height="4.4" fill="#000"/>
<text x="182.60" y="489.80" font-size="8.3" text-anchor="middle" fill="#231f20" stroke="#231f20" stroke-width="0.18" textLength="85.20" lengthAdjust="spacingAndGlyphs" >Depleted in MA and HM</text>
<text x="377.90" y="489.80" font-size="8.3" text-anchor="middle" fill="#231f20" stroke="#231f20" stroke-width="0.18" textLength="53.00" lengthAdjust="spacingAndGlyphs" >Depleted in MA</text>
<text x="471.10" y="489.80" font-size="8.3" text-anchor="middle" fill="#231f20" stroke="#231f20" stroke-width="0.18" textLength="54.20" lengthAdjust="spacingAndGlyphs" >Depleted in HM</text>
<rect x="0.6" y="0.6" width="518.8" height="494.8" fill="none" stroke="#000" stroke-width="1.2"/>
</svg>
</body></html>
